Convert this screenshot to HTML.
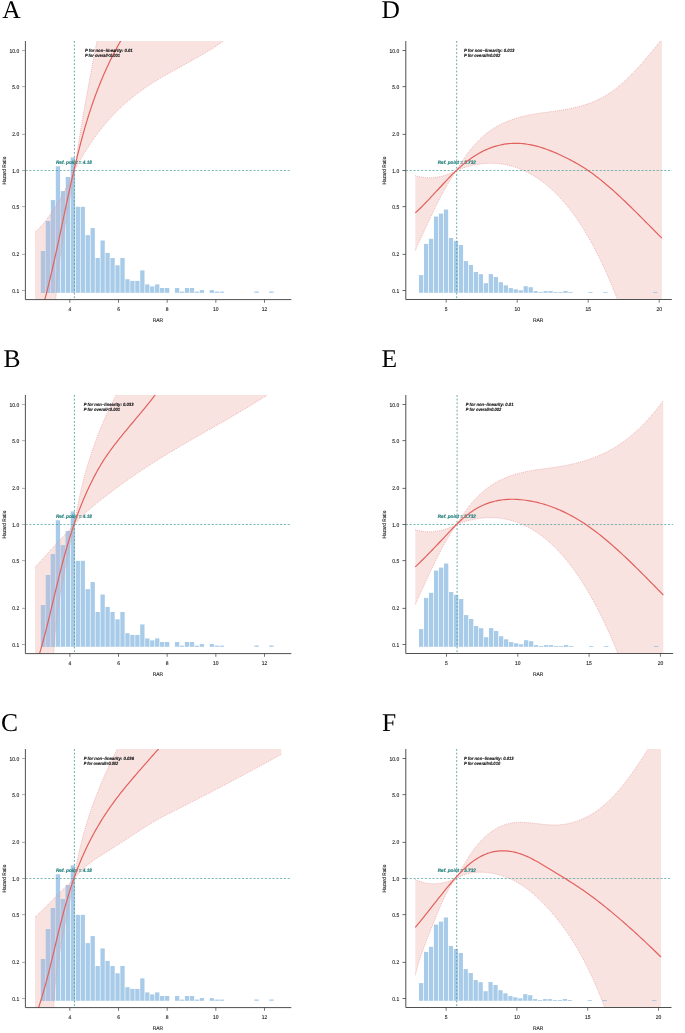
<!DOCTYPE html>
<html><head><meta charset="utf-8"><style>
html,body{margin:0;padding:0;background:#fff;width:685px;height:1033px;overflow:hidden}
svg{display:block;will-change:transform}
text{text-rendering:geometricPrecision}
.tk{font-family:"Liberation Sans",sans-serif;font-size:5.5px;fill:#1e1e1e;stroke:#1e1e1e;stroke-width:0.12px}
.hr{font-family:"Liberation Sans",sans-serif;font-size:5.2px;fill:#1e1e1e;stroke:#1e1e1e;stroke-width:0.12px}
.pv{font-family:"Liberation Sans",sans-serif;font-size:4.5px;font-weight:bold;font-style:italic;fill:#111;stroke:#111;stroke-width:0.12px}
.rf{font-family:"Liberation Sans",sans-serif;font-size:4.9px;font-weight:bold;font-style:italic;fill:#1f7f7a;stroke:#1f7f7a;stroke-width:0.15px}
.pl{font-family:"Liberation Serif",serif;font-size:25.5px;fill:#000}
</style></head><body>
<svg width="685" height="1033" viewBox="0 0 685 1033">
<rect width="685" height="1033" fill="#fff"/>
<clipPath id="clipA"><rect x="25.40" y="41.00" width="265.90" height="258.60"/></clipPath>
<clipPath id="pinkA"><path d="M35.00,232.40 L37.07,230.43 L39.15,228.32 L41.22,226.06 L43.29,223.66 L45.37,221.12 L47.44,218.43 L49.52,215.61 L51.59,212.63 L53.66,209.52 L55.74,206.26 L57.81,202.86 L59.88,199.32 L61.96,195.63 L64.03,191.80 L66.11,187.83 L68.18,183.71 L70.25,179.45 L72.33,175.05 L74.40,170.50 L74.72,168.31 L75.04,166.11 L75.36,163.92 L75.69,161.72 L76.02,159.53 L76.35,157.33 L76.69,155.14 L77.02,152.94 L77.36,150.75 L77.71,148.55 L78.05,146.36 L78.40,144.16 L78.75,141.97 L79.10,139.77 L79.46,137.58 L79.82,135.38 L80.18,133.19 L80.54,130.99 L80.90,128.80 L81.27,126.60 L81.64,124.41 L82.01,122.21 L82.38,120.02 L82.76,117.82 L83.14,115.63 L83.52,113.43 L83.90,111.24 L84.28,109.04 L84.67,106.85 L85.06,104.65 L85.45,102.46 L85.84,100.26 L86.23,98.07 L86.63,95.87 L87.03,93.68 L87.43,91.48 L87.83,89.29 L88.23,87.09 L88.63,84.90 L89.04,82.70 L89.44,80.51 L89.85,78.31 L90.26,76.12 L90.68,73.92 L91.09,71.73 L91.50,69.53 L91.92,67.34 L92.34,65.14 L92.75,62.95 L93.17,60.75 L93.59,58.56 L94.02,56.36 L94.44,54.17 L94.86,51.97 L95.29,49.78 L95.72,47.58 L96.14,45.39 L96.57,43.19 L97.00,41.00 L99.00,10.00 L281.30,10.00 L281.30,10.00 L226.00,10.00 L224.00,40.60 L222.32,41.80 L220.64,42.98 L218.96,44.14 L217.28,45.28 L215.60,46.39 L213.91,47.49 L212.23,48.57 L210.55,49.63 L208.87,50.68 L207.19,51.71 L205.51,52.73 L203.83,53.73 L202.15,54.72 L200.47,55.70 L198.79,56.67 L197.11,57.63 L195.42,58.58 L193.74,59.52 L192.06,60.46 L190.38,61.39 L188.70,62.32 L187.02,63.24 L185.34,64.16 L183.66,65.08 L181.98,66.00 L180.30,66.92 L178.62,67.84 L176.93,68.76 L175.25,69.69 L173.57,70.62 L171.89,71.55 L170.21,72.49 L168.53,73.44 L166.85,74.40 L165.17,75.36 L163.49,76.34 L161.81,77.32 L160.13,78.32 L158.44,79.33 L156.76,80.35 L155.08,81.39 L153.40,82.45 L151.72,83.52 L150.04,84.61 L148.36,85.72 L146.68,86.84 L145.00,87.99 L143.32,89.16 L141.64,90.35 L139.96,91.57 L138.27,92.81 L136.59,94.08 L134.91,95.37 L133.23,96.69 L131.55,98.04 L129.87,99.41 L128.19,100.82 L126.51,102.27 L124.83,103.74 L123.15,105.26 L121.47,106.80 L119.78,108.39 L118.10,110.02 L116.42,111.69 L114.74,113.39 L113.06,115.15 L111.38,116.94 L109.70,118.79 L108.02,120.68 L106.34,122.62 L104.66,124.61 L102.98,126.65 L101.29,128.74 L99.61,130.89 L97.93,133.09 L96.25,135.35 L94.57,137.67 L92.89,140.05 L91.21,142.48 L89.53,144.98 L87.85,147.55 L86.17,150.18 L84.49,152.87 L82.80,155.63 L81.12,158.46 L79.44,161.36 L77.76,164.33 L76.08,167.38 L74.40,170.50 L73.74,174.95 L73.06,179.40 L72.36,183.84 L71.64,188.29 L70.90,192.74 L70.15,197.19 L69.38,201.64 L68.61,206.09 L67.84,210.53 L67.06,214.98 L66.29,219.43 L65.51,223.88 L64.75,228.33 L63.99,232.78 L63.25,237.22 L62.52,241.67 L61.82,246.12 L61.13,250.57 L60.47,255.02 L59.83,259.47 L59.22,263.91 L58.65,268.36 L58.11,272.81 L57.61,277.26 L57.16,281.71 L56.74,286.16 L56.38,290.60 L56.06,295.05 L55.80,299.50 L55.30,340.00 L35.00,340.00 Z"/></clipPath>
<g clip-path="url(#clipA)">
<path d="M35.00,232.40 L37.07,230.43 L39.15,228.32 L41.22,226.06 L43.29,223.66 L45.37,221.12 L47.44,218.43 L49.52,215.61 L51.59,212.63 L53.66,209.52 L55.74,206.26 L57.81,202.86 L59.88,199.32 L61.96,195.63 L64.03,191.80 L66.11,187.83 L68.18,183.71 L70.25,179.45 L72.33,175.05 L74.40,170.50 L74.72,168.31 L75.04,166.11 L75.36,163.92 L75.69,161.72 L76.02,159.53 L76.35,157.33 L76.69,155.14 L77.02,152.94 L77.36,150.75 L77.71,148.55 L78.05,146.36 L78.40,144.16 L78.75,141.97 L79.10,139.77 L79.46,137.58 L79.82,135.38 L80.18,133.19 L80.54,130.99 L80.90,128.80 L81.27,126.60 L81.64,124.41 L82.01,122.21 L82.38,120.02 L82.76,117.82 L83.14,115.63 L83.52,113.43 L83.90,111.24 L84.28,109.04 L84.67,106.85 L85.06,104.65 L85.45,102.46 L85.84,100.26 L86.23,98.07 L86.63,95.87 L87.03,93.68 L87.43,91.48 L87.83,89.29 L88.23,87.09 L88.63,84.90 L89.04,82.70 L89.44,80.51 L89.85,78.31 L90.26,76.12 L90.68,73.92 L91.09,71.73 L91.50,69.53 L91.92,67.34 L92.34,65.14 L92.75,62.95 L93.17,60.75 L93.59,58.56 L94.02,56.36 L94.44,54.17 L94.86,51.97 L95.29,49.78 L95.72,47.58 L96.14,45.39 L96.57,43.19 L97.00,41.00 L99.00,10.00 L281.30,10.00 L281.30,10.00 L226.00,10.00 L224.00,40.60 L222.32,41.80 L220.64,42.98 L218.96,44.14 L217.28,45.28 L215.60,46.39 L213.91,47.49 L212.23,48.57 L210.55,49.63 L208.87,50.68 L207.19,51.71 L205.51,52.73 L203.83,53.73 L202.15,54.72 L200.47,55.70 L198.79,56.67 L197.11,57.63 L195.42,58.58 L193.74,59.52 L192.06,60.46 L190.38,61.39 L188.70,62.32 L187.02,63.24 L185.34,64.16 L183.66,65.08 L181.98,66.00 L180.30,66.92 L178.62,67.84 L176.93,68.76 L175.25,69.69 L173.57,70.62 L171.89,71.55 L170.21,72.49 L168.53,73.44 L166.85,74.40 L165.17,75.36 L163.49,76.34 L161.81,77.32 L160.13,78.32 L158.44,79.33 L156.76,80.35 L155.08,81.39 L153.40,82.45 L151.72,83.52 L150.04,84.61 L148.36,85.72 L146.68,86.84 L145.00,87.99 L143.32,89.16 L141.64,90.35 L139.96,91.57 L138.27,92.81 L136.59,94.08 L134.91,95.37 L133.23,96.69 L131.55,98.04 L129.87,99.41 L128.19,100.82 L126.51,102.27 L124.83,103.74 L123.15,105.26 L121.47,106.80 L119.78,108.39 L118.10,110.02 L116.42,111.69 L114.74,113.39 L113.06,115.15 L111.38,116.94 L109.70,118.79 L108.02,120.68 L106.34,122.62 L104.66,124.61 L102.98,126.65 L101.29,128.74 L99.61,130.89 L97.93,133.09 L96.25,135.35 L94.57,137.67 L92.89,140.05 L91.21,142.48 L89.53,144.98 L87.85,147.55 L86.17,150.18 L84.49,152.87 L82.80,155.63 L81.12,158.46 L79.44,161.36 L77.76,164.33 L76.08,167.38 L74.40,170.50 L73.74,174.95 L73.06,179.40 L72.36,183.84 L71.64,188.29 L70.90,192.74 L70.15,197.19 L69.38,201.64 L68.61,206.09 L67.84,210.53 L67.06,214.98 L66.29,219.43 L65.51,223.88 L64.75,228.33 L63.99,232.78 L63.25,237.22 L62.52,241.67 L61.82,246.12 L61.13,250.57 L60.47,255.02 L59.83,259.47 L59.22,263.91 L58.65,268.36 L58.11,272.81 L57.61,277.26 L57.16,281.71 L56.74,286.16 L56.38,290.60 L56.06,295.05 L55.80,299.50 L55.30,340.00 L35.00,340.00 Z" fill="#f9e3e1"/>
<g fill="#a7cbe8"><rect x="40.90" y="251.00" width="4.30" height="41.80"/><rect x="45.86" y="221.10" width="4.30" height="71.70"/><rect x="50.83" y="200.10" width="4.30" height="92.70"/><rect x="55.80" y="166.30" width="4.30" height="126.50"/><rect x="60.76" y="191.10" width="4.30" height="101.70"/><rect x="65.72" y="177.00" width="4.30" height="115.80"/><rect x="70.69" y="157.40" width="4.30" height="135.40"/><rect x="75.66" y="206.80" width="4.30" height="86.00"/><rect x="80.62" y="206.80" width="4.30" height="86.00"/><rect x="85.59" y="235.10" width="4.30" height="57.70"/><rect x="90.55" y="228.10" width="4.30" height="64.70"/><rect x="95.51" y="258.00" width="4.30" height="34.80"/><rect x="100.48" y="240.50" width="4.30" height="52.30"/><rect x="105.44" y="252.90" width="4.30" height="39.90"/><rect x="110.41" y="258.00" width="4.30" height="34.80"/><rect x="115.38" y="265.30" width="4.30" height="27.50"/><rect x="120.34" y="258.00" width="4.30" height="34.80"/><rect x="125.31" y="279.20" width="4.30" height="13.60"/><rect x="130.27" y="280.90" width="4.30" height="11.90"/><rect x="135.23" y="280.90" width="4.30" height="11.90"/><rect x="140.20" y="270.40" width="4.30" height="22.40"/><rect x="145.16" y="284.40" width="4.30" height="8.40"/><rect x="150.13" y="286.40" width="4.30" height="6.40"/><rect x="155.09" y="284.40" width="4.30" height="8.40"/><rect x="160.06" y="288.00" width="4.30" height="4.80"/><rect x="165.03" y="288.00" width="4.30" height="4.80"/><rect x="174.96" y="288.00" width="4.30" height="4.80"/><rect x="179.92" y="291.60" width="4.30" height="1.20"/><rect x="184.88" y="288.00" width="4.30" height="4.80"/><rect x="189.85" y="288.00" width="4.30" height="4.80"/><rect x="194.81" y="291.60" width="4.30" height="1.20"/><rect x="199.78" y="290.10" width="4.30" height="2.70"/><rect x="209.71" y="290.10" width="4.30" height="2.70"/><rect x="214.68" y="291.60" width="4.30" height="1.20"/><rect x="219.64" y="291.60" width="4.30" height="1.20"/><rect x="254.40" y="291.50" width="4.30" height="1.30"/><rect x="269.29" y="291.50" width="4.30" height="1.30"/></g>
<g fill="#b1c3df" clip-path="url(#pinkA)"><rect x="40.90" y="251.00" width="4.30" height="41.80"/><rect x="45.86" y="221.10" width="4.30" height="71.70"/><rect x="50.83" y="200.10" width="4.30" height="92.70"/><rect x="55.80" y="166.30" width="4.30" height="126.50"/><rect x="60.76" y="191.10" width="4.30" height="101.70"/><rect x="65.72" y="177.00" width="4.30" height="115.80"/><rect x="70.69" y="157.40" width="4.30" height="135.40"/><rect x="75.66" y="206.80" width="4.30" height="86.00"/><rect x="80.62" y="206.80" width="4.30" height="86.00"/><rect x="85.59" y="235.10" width="4.30" height="57.70"/><rect x="90.55" y="228.10" width="4.30" height="64.70"/><rect x="95.51" y="258.00" width="4.30" height="34.80"/><rect x="100.48" y="240.50" width="4.30" height="52.30"/><rect x="105.44" y="252.90" width="4.30" height="39.90"/><rect x="110.41" y="258.00" width="4.30" height="34.80"/><rect x="115.38" y="265.30" width="4.30" height="27.50"/><rect x="120.34" y="258.00" width="4.30" height="34.80"/><rect x="125.31" y="279.20" width="4.30" height="13.60"/><rect x="130.27" y="280.90" width="4.30" height="11.90"/><rect x="135.23" y="280.90" width="4.30" height="11.90"/><rect x="140.20" y="270.40" width="4.30" height="22.40"/><rect x="145.16" y="284.40" width="4.30" height="8.40"/><rect x="150.13" y="286.40" width="4.30" height="6.40"/><rect x="155.09" y="284.40" width="4.30" height="8.40"/><rect x="160.06" y="288.00" width="4.30" height="4.80"/><rect x="165.03" y="288.00" width="4.30" height="4.80"/><rect x="174.96" y="288.00" width="4.30" height="4.80"/><rect x="179.92" y="291.60" width="4.30" height="1.20"/><rect x="184.88" y="288.00" width="4.30" height="4.80"/><rect x="189.85" y="288.00" width="4.30" height="4.80"/><rect x="194.81" y="291.60" width="4.30" height="1.20"/><rect x="199.78" y="290.10" width="4.30" height="2.70"/><rect x="209.71" y="290.10" width="4.30" height="2.70"/><rect x="214.68" y="291.60" width="4.30" height="1.20"/><rect x="219.64" y="291.60" width="4.30" height="1.20"/><rect x="254.40" y="291.50" width="4.30" height="1.30"/><rect x="269.29" y="291.50" width="4.30" height="1.30"/></g>
<path d="M35.00,232.40 L37.07,230.43 L39.15,228.32 L41.22,226.06 L43.29,223.66 L45.37,221.12 L47.44,218.43 L49.52,215.61 L51.59,212.63 L53.66,209.52 L55.74,206.26 L57.81,202.86 L59.88,199.32 L61.96,195.63 L64.03,191.80 L66.11,187.83 L68.18,183.71 L70.25,179.45 L72.33,175.05 L74.40,170.50 L74.72,168.31 L75.04,166.11 L75.36,163.92 L75.69,161.72 L76.02,159.53 L76.35,157.33 L76.69,155.14 L77.02,152.94 L77.36,150.75 L77.71,148.55 L78.05,146.36 L78.40,144.16 L78.75,141.97 L79.10,139.77 L79.46,137.58 L79.82,135.38 L80.18,133.19 L80.54,130.99 L80.90,128.80 L81.27,126.60 L81.64,124.41 L82.01,122.21 L82.38,120.02 L82.76,117.82 L83.14,115.63 L83.52,113.43 L83.90,111.24 L84.28,109.04 L84.67,106.85 L85.06,104.65 L85.45,102.46 L85.84,100.26 L86.23,98.07 L86.63,95.87 L87.03,93.68 L87.43,91.48 L87.83,89.29 L88.23,87.09 L88.63,84.90 L89.04,82.70 L89.44,80.51 L89.85,78.31 L90.26,76.12 L90.68,73.92 L91.09,71.73 L91.50,69.53 L91.92,67.34 L92.34,65.14 L92.75,62.95 L93.17,60.75 L93.59,58.56 L94.02,56.36 L94.44,54.17 L94.86,51.97 L95.29,49.78 L95.72,47.58 L96.14,45.39 L96.57,43.19 L97.00,41.00" fill="none" stroke="#e8999a" stroke-width="0.8" stroke-dasharray="0.8 1.2"/>
<path d="M55.80,299.50 L56.06,295.05 L56.38,290.60 L56.74,286.16 L57.16,281.71 L57.61,277.26 L58.11,272.81 L58.65,268.36 L59.22,263.91 L59.83,259.47 L60.47,255.02 L61.13,250.57 L61.82,246.12 L62.52,241.67 L63.25,237.22 L63.99,232.78 L64.75,228.33 L65.51,223.88 L66.29,219.43 L67.06,214.98 L67.84,210.53 L68.61,206.09 L69.38,201.64 L70.15,197.19 L70.90,192.74 L71.64,188.29 L72.36,183.84 L73.06,179.40 L73.74,174.95 L74.40,170.50 L76.08,167.38 L77.76,164.33 L79.44,161.36 L81.12,158.46 L82.80,155.63 L84.49,152.87 L86.17,150.18 L87.85,147.55 L89.53,144.98 L91.21,142.48 L92.89,140.05 L94.57,137.67 L96.25,135.35 L97.93,133.09 L99.61,130.89 L101.29,128.74 L102.98,126.65 L104.66,124.61 L106.34,122.62 L108.02,120.68 L109.70,118.79 L111.38,116.94 L113.06,115.15 L114.74,113.39 L116.42,111.69 L118.10,110.02 L119.78,108.39 L121.47,106.80 L123.15,105.26 L124.83,103.74 L126.51,102.27 L128.19,100.82 L129.87,99.41 L131.55,98.04 L133.23,96.69 L134.91,95.37 L136.59,94.08 L138.27,92.81 L139.96,91.57 L141.64,90.35 L143.32,89.16 L145.00,87.99 L146.68,86.84 L148.36,85.72 L150.04,84.61 L151.72,83.52 L153.40,82.45 L155.08,81.39 L156.76,80.35 L158.44,79.33 L160.13,78.32 L161.81,77.32 L163.49,76.34 L165.17,75.36 L166.85,74.40 L168.53,73.44 L170.21,72.49 L171.89,71.55 L173.57,70.62 L175.25,69.69 L176.93,68.76 L178.62,67.84 L180.30,66.92 L181.98,66.00 L183.66,65.08 L185.34,64.16 L187.02,63.24 L188.70,62.32 L190.38,61.39 L192.06,60.46 L193.74,59.52 L195.42,58.58 L197.11,57.63 L198.79,56.67 L200.47,55.70 L202.15,54.72 L203.83,53.73 L205.51,52.73 L207.19,51.71 L208.87,50.68 L210.55,49.63 L212.23,48.57 L213.91,47.49 L215.60,46.39 L217.28,45.28 L218.96,44.14 L220.64,42.98 L222.32,41.80 L224.00,40.60" fill="none" stroke="#e8999a" stroke-width="0.8" stroke-dasharray="0.8 1.2"/>
<line x1="74.4" y1="41.0" x2="74.4" y2="299.6" stroke="#4f9f9c" stroke-width="0.9" stroke-dasharray="1.8 1.9" stroke-opacity="1"/>
<line x1="25.4" y1="170.5" x2="291.5" y2="170.5" stroke="#4f9f9c" stroke-width="0.8" stroke-dasharray="2.2 1.6" stroke-opacity="0.9"/>
<text x="56.0" y="164.20" class="rf" textLength="35.80" lengthAdjust="spacingAndGlyphs">Ref. point = 4.18</text>
<path d="M37.13,328.50 L44.80,299.50 L45.37,297.33 L45.94,295.16 L46.50,292.98 L47.06,290.81 L47.61,288.64 L48.15,286.47 L48.69,284.29 L49.22,282.12 L49.75,279.95 L50.28,277.78 L50.79,275.61 L51.31,273.43 L51.82,271.26 L52.33,269.09 L52.83,266.92 L53.33,264.74 L53.82,262.57 L54.31,260.40 L54.80,258.23 L55.29,256.05 L55.77,253.88 L56.25,251.71 L56.73,249.54 L57.20,247.37 L57.67,245.19 L58.14,243.02 L58.61,240.85 L59.08,238.68 L59.55,236.50 L60.01,234.33 L60.47,232.16 L60.94,229.99 L61.40,227.82 L61.86,225.64 L62.32,223.47 L62.78,221.30 L63.24,219.13 L63.70,216.95 L64.16,214.78 L64.62,212.61 L65.08,210.44 L65.54,208.26 L66.01,206.09 L66.47,203.92 L66.94,201.75 L67.40,199.58 L67.87,197.40 L68.34,195.23 L68.82,193.06 L69.29,190.89 L69.77,188.71 L70.25,186.54 L70.73,184.37 L71.22,182.20 L71.71,180.03 L72.20,177.85 L72.70,175.68 L73.20,173.51 L73.70,171.34 L74.21,169.16 L74.72,166.99 L75.23,164.82 L75.75,162.65 L76.28,160.47 L76.81,158.30 L77.34,156.13 L77.88,153.96 L78.43,151.79 L78.98,149.61 L79.54,147.44 L80.10,145.27 L80.67,143.10 L81.24,140.92 L81.83,138.75 L82.42,136.58 L83.02,134.41 L83.62,132.24 L84.24,130.06 L84.86,127.89 L85.50,125.72 L86.14,123.55 L86.79,121.37 L87.45,119.20 L88.12,117.03 L88.81,114.86 L89.50,112.68 L90.21,110.51 L90.92,108.34 L91.65,106.17 L92.39,104.00 L93.14,101.82 L93.91,99.65 L94.69,97.48 L95.48,95.31 L96.29,93.13 L97.11,90.96 L97.94,88.79 L98.79,86.62 L99.66,84.45 L100.54,82.27 L101.43,80.10 L102.34,77.93 L103.27,75.76 L104.22,73.58 L105.18,71.41 L106.16,69.24 L107.15,67.07 L108.17,64.89 L109.20,62.72 L110.25,60.55 L111.32,58.38 L112.41,56.21 L113.52,54.03 L114.65,51.86 L115.80,49.69 L116.96,47.52 L118.15,45.34 L119.37,43.17 L120.60,41.00 L135.40,14.91" fill="none" stroke="#e2615d" stroke-width="1.2" stroke-linejoin="round"/>
</g>
<path d="M25.4,41.0 V299.6 H291.3" fill="none" stroke="#3c3c3c" stroke-width="0.9"/>
<line x1="22.00" y1="50.50" x2="25.4" y2="50.50" stroke="#777" stroke-width="0.6"/>
<text transform="translate(19.25,52.50) scale(0.9,1)" text-anchor="end" class="tk">10.0</text>
<line x1="22.00" y1="86.62" x2="25.4" y2="86.62" stroke="#777" stroke-width="0.6"/>
<text transform="translate(19.25,88.62) scale(0.9,1)" text-anchor="end" class="tk">5.0</text>
<line x1="22.00" y1="134.38" x2="25.4" y2="134.38" stroke="#777" stroke-width="0.6"/>
<text transform="translate(19.25,136.38) scale(0.9,1)" text-anchor="end" class="tk">2.0</text>
<line x1="22.00" y1="170.50" x2="25.4" y2="170.50" stroke="#777" stroke-width="0.6"/>
<text transform="translate(19.25,172.50) scale(0.9,1)" text-anchor="end" class="tk">1.0</text>
<line x1="22.00" y1="206.62" x2="25.4" y2="206.62" stroke="#777" stroke-width="0.6"/>
<text transform="translate(19.25,208.62) scale(0.9,1)" text-anchor="end" class="tk">0.5</text>
<line x1="22.00" y1="254.38" x2="25.4" y2="254.38" stroke="#777" stroke-width="0.6"/>
<text transform="translate(19.25,256.38) scale(0.9,1)" text-anchor="end" class="tk">0.2</text>
<line x1="22.00" y1="290.50" x2="25.4" y2="290.50" stroke="#777" stroke-width="0.6"/>
<text transform="translate(19.25,292.50) scale(0.9,1)" text-anchor="end" class="tk">0.1</text>
<line x1="69.85" y1="299.6" x2="69.85" y2="302.8" stroke="#3c3c3c" stroke-width="0.7"/>
<text transform="translate(69.85,310.60) scale(0.9,1)" text-anchor="middle" class="tk">4</text>
<line x1="118.51" y1="299.6" x2="118.51" y2="302.8" stroke="#3c3c3c" stroke-width="0.7"/>
<text transform="translate(118.51,310.60) scale(0.9,1)" text-anchor="middle" class="tk">6</text>
<line x1="167.17" y1="299.6" x2="167.17" y2="302.8" stroke="#3c3c3c" stroke-width="0.7"/>
<text transform="translate(167.17,310.60) scale(0.9,1)" text-anchor="middle" class="tk">8</text>
<line x1="215.83" y1="299.6" x2="215.83" y2="302.8" stroke="#3c3c3c" stroke-width="0.7"/>
<text transform="translate(215.83,310.60) scale(0.9,1)" text-anchor="middle" class="tk">10</text>
<line x1="264.49" y1="299.6" x2="264.49" y2="302.8" stroke="#3c3c3c" stroke-width="0.7"/>
<text transform="translate(264.49,310.60) scale(0.9,1)" text-anchor="middle" class="tk">12</text>
<text transform="translate(157.9,322.30) scale(0.9,0.95)" text-anchor="middle" class="tk">RAR</text>
<text transform="translate(6.00,170.60) rotate(-90) scale(0.92,1)" text-anchor="middle" class="hr">Hazard Ratio</text>
<text x="84.90" y="51.80" class="pv" textLength="47.80" lengthAdjust="spacingAndGlyphs">P for non−linearity: 0.01</text>
<text x="84.90" y="56.90" class="pv" textLength="35.10" lengthAdjust="spacingAndGlyphs">P for overall<0.001</text>
<text x="2.2" y="17.9" class="pl">A</text>
<clipPath id="clipB"><rect x="25.40" y="395.00" width="265.90" height="258.60"/></clipPath>
<clipPath id="pinkB"><path d="M35.00,567.40 L37.07,565.08 L39.15,562.77 L41.22,560.47 L43.29,558.17 L45.37,555.88 L47.44,553.59 L49.52,551.31 L51.59,549.04 L53.66,546.78 L55.74,544.52 L57.81,542.27 L59.88,540.02 L61.96,537.78 L64.03,535.55 L66.11,533.33 L68.18,531.11 L70.25,528.90 L72.33,526.70 L74.40,524.50 L74.75,522.31 L75.12,520.11 L75.49,517.92 L75.87,515.72 L76.26,513.53 L76.66,511.33 L77.07,509.14 L77.49,506.94 L77.92,504.75 L78.36,502.55 L78.82,500.36 L79.28,498.16 L79.75,495.97 L80.24,493.77 L80.74,491.58 L81.25,489.38 L81.77,487.19 L82.30,484.99 L82.84,482.80 L83.40,480.60 L83.97,478.41 L84.55,476.21 L85.15,474.02 L85.75,471.82 L86.37,469.63 L87.00,467.43 L87.65,465.24 L88.31,463.04 L88.98,460.85 L89.67,458.65 L90.37,456.46 L91.08,454.26 L91.81,452.07 L92.55,449.87 L93.31,447.68 L94.08,445.48 L94.87,443.29 L95.67,441.09 L96.49,438.90 L97.32,436.70 L98.16,434.51 L99.03,432.31 L99.90,430.12 L100.80,427.92 L101.71,425.73 L102.63,423.53 L103.58,421.34 L104.53,419.14 L105.51,416.95 L106.50,414.75 L107.51,412.56 L108.53,410.36 L109.58,408.17 L110.64,405.97 L111.71,403.78 L112.81,401.58 L113.92,399.39 L115.05,397.19 L116.20,395.00 L118.20,364.00 L281.30,364.00 L281.30,364.00 L269.30,364.00 L267.30,395.00 L265.13,396.39 L262.97,397.78 L260.80,399.15 L258.63,400.51 L256.46,401.86 L254.30,403.20 L252.13,404.53 L249.96,405.85 L247.79,407.17 L245.63,408.47 L243.46,409.77 L241.29,411.06 L239.12,412.35 L236.96,413.63 L234.79,414.90 L232.62,416.16 L230.45,417.43 L228.29,418.68 L226.12,419.94 L223.95,421.19 L221.78,422.43 L219.62,423.68 L217.45,424.92 L215.28,426.16 L213.11,427.39 L210.95,428.63 L208.78,429.87 L206.61,431.10 L204.44,432.34 L202.28,433.58 L200.11,434.81 L197.94,436.05 L195.78,437.30 L193.61,438.54 L191.44,439.79 L189.27,441.04 L187.11,442.29 L184.94,443.55 L182.77,444.82 L180.60,446.09 L178.44,447.36 L176.27,448.64 L174.10,449.93 L171.93,451.22 L169.77,452.52 L167.60,453.83 L165.43,455.15 L163.26,456.48 L161.10,457.81 L158.93,459.16 L156.76,460.51 L154.59,461.88 L152.43,463.26 L150.26,464.64 L148.09,466.04 L145.92,467.46 L143.76,468.88 L141.59,470.32 L139.42,471.77 L137.26,473.24 L135.09,474.72 L132.92,476.21 L130.75,477.72 L128.59,479.25 L126.42,480.79 L124.25,482.34 L122.08,483.91 L119.92,485.50 L117.75,487.10 L115.58,488.71 L113.41,490.33 L111.25,491.97 L109.08,493.61 L106.91,495.27 L104.74,496.94 L102.58,498.62 L100.41,500.31 L98.24,502.01 L96.07,503.73 L93.91,505.49 L91.74,507.29 L89.57,509.15 L87.40,511.07 L85.24,513.06 L83.07,515.14 L80.90,517.31 L78.73,519.59 L76.57,521.98 L74.40,524.50 L73.45,528.95 L72.50,533.40 L71.55,537.84 L70.60,542.29 L69.65,546.74 L68.72,551.19 L67.79,555.64 L66.87,560.09 L65.97,564.53 L65.08,568.98 L64.21,573.43 L63.36,577.88 L62.53,582.33 L61.72,586.78 L60.94,591.22 L60.19,595.67 L59.46,600.12 L58.77,604.57 L58.11,609.02 L57.48,613.47 L56.90,617.91 L56.35,622.36 L55.84,626.81 L55.38,631.26 L54.97,635.71 L54.60,640.16 L54.28,644.60 L54.01,649.05 L53.80,653.50 L53.30,694.00 L35.00,694.00 Z"/></clipPath>
<g clip-path="url(#clipB)">
<path d="M35.00,567.40 L37.07,565.08 L39.15,562.77 L41.22,560.47 L43.29,558.17 L45.37,555.88 L47.44,553.59 L49.52,551.31 L51.59,549.04 L53.66,546.78 L55.74,544.52 L57.81,542.27 L59.88,540.02 L61.96,537.78 L64.03,535.55 L66.11,533.33 L68.18,531.11 L70.25,528.90 L72.33,526.70 L74.40,524.50 L74.75,522.31 L75.12,520.11 L75.49,517.92 L75.87,515.72 L76.26,513.53 L76.66,511.33 L77.07,509.14 L77.49,506.94 L77.92,504.75 L78.36,502.55 L78.82,500.36 L79.28,498.16 L79.75,495.97 L80.24,493.77 L80.74,491.58 L81.25,489.38 L81.77,487.19 L82.30,484.99 L82.84,482.80 L83.40,480.60 L83.97,478.41 L84.55,476.21 L85.15,474.02 L85.75,471.82 L86.37,469.63 L87.00,467.43 L87.65,465.24 L88.31,463.04 L88.98,460.85 L89.67,458.65 L90.37,456.46 L91.08,454.26 L91.81,452.07 L92.55,449.87 L93.31,447.68 L94.08,445.48 L94.87,443.29 L95.67,441.09 L96.49,438.90 L97.32,436.70 L98.16,434.51 L99.03,432.31 L99.90,430.12 L100.80,427.92 L101.71,425.73 L102.63,423.53 L103.58,421.34 L104.53,419.14 L105.51,416.95 L106.50,414.75 L107.51,412.56 L108.53,410.36 L109.58,408.17 L110.64,405.97 L111.71,403.78 L112.81,401.58 L113.92,399.39 L115.05,397.19 L116.20,395.00 L118.20,364.00 L281.30,364.00 L281.30,364.00 L269.30,364.00 L267.30,395.00 L265.13,396.39 L262.97,397.78 L260.80,399.15 L258.63,400.51 L256.46,401.86 L254.30,403.20 L252.13,404.53 L249.96,405.85 L247.79,407.17 L245.63,408.47 L243.46,409.77 L241.29,411.06 L239.12,412.35 L236.96,413.63 L234.79,414.90 L232.62,416.16 L230.45,417.43 L228.29,418.68 L226.12,419.94 L223.95,421.19 L221.78,422.43 L219.62,423.68 L217.45,424.92 L215.28,426.16 L213.11,427.39 L210.95,428.63 L208.78,429.87 L206.61,431.10 L204.44,432.34 L202.28,433.58 L200.11,434.81 L197.94,436.05 L195.78,437.30 L193.61,438.54 L191.44,439.79 L189.27,441.04 L187.11,442.29 L184.94,443.55 L182.77,444.82 L180.60,446.09 L178.44,447.36 L176.27,448.64 L174.10,449.93 L171.93,451.22 L169.77,452.52 L167.60,453.83 L165.43,455.15 L163.26,456.48 L161.10,457.81 L158.93,459.16 L156.76,460.51 L154.59,461.88 L152.43,463.26 L150.26,464.64 L148.09,466.04 L145.92,467.46 L143.76,468.88 L141.59,470.32 L139.42,471.77 L137.26,473.24 L135.09,474.72 L132.92,476.21 L130.75,477.72 L128.59,479.25 L126.42,480.79 L124.25,482.34 L122.08,483.91 L119.92,485.50 L117.75,487.10 L115.58,488.71 L113.41,490.33 L111.25,491.97 L109.08,493.61 L106.91,495.27 L104.74,496.94 L102.58,498.62 L100.41,500.31 L98.24,502.01 L96.07,503.73 L93.91,505.49 L91.74,507.29 L89.57,509.15 L87.40,511.07 L85.24,513.06 L83.07,515.14 L80.90,517.31 L78.73,519.59 L76.57,521.98 L74.40,524.50 L73.45,528.95 L72.50,533.40 L71.55,537.84 L70.60,542.29 L69.65,546.74 L68.72,551.19 L67.79,555.64 L66.87,560.09 L65.97,564.53 L65.08,568.98 L64.21,573.43 L63.36,577.88 L62.53,582.33 L61.72,586.78 L60.94,591.22 L60.19,595.67 L59.46,600.12 L58.77,604.57 L58.11,609.02 L57.48,613.47 L56.90,617.91 L56.35,622.36 L55.84,626.81 L55.38,631.26 L54.97,635.71 L54.60,640.16 L54.28,644.60 L54.01,649.05 L53.80,653.50 L53.30,694.00 L35.00,694.00 Z" fill="#f9e3e1"/>
<g fill="#a7cbe8"><rect x="40.90" y="605.00" width="4.30" height="41.80"/><rect x="45.86" y="575.10" width="4.30" height="71.70"/><rect x="50.83" y="554.10" width="4.30" height="92.70"/><rect x="55.80" y="520.30" width="4.30" height="126.50"/><rect x="60.76" y="545.10" width="4.30" height="101.70"/><rect x="65.72" y="531.00" width="4.30" height="115.80"/><rect x="70.69" y="511.40" width="4.30" height="135.40"/><rect x="75.66" y="560.80" width="4.30" height="86.00"/><rect x="80.62" y="560.80" width="4.30" height="86.00"/><rect x="85.59" y="589.10" width="4.30" height="57.70"/><rect x="90.55" y="582.10" width="4.30" height="64.70"/><rect x="95.51" y="612.00" width="4.30" height="34.80"/><rect x="100.48" y="594.50" width="4.30" height="52.30"/><rect x="105.44" y="606.90" width="4.30" height="39.90"/><rect x="110.41" y="612.00" width="4.30" height="34.80"/><rect x="115.38" y="619.30" width="4.30" height="27.50"/><rect x="120.34" y="612.00" width="4.30" height="34.80"/><rect x="125.31" y="633.20" width="4.30" height="13.60"/><rect x="130.27" y="634.90" width="4.30" height="11.90"/><rect x="135.23" y="634.90" width="4.30" height="11.90"/><rect x="140.20" y="624.40" width="4.30" height="22.40"/><rect x="145.16" y="638.40" width="4.30" height="8.40"/><rect x="150.13" y="640.40" width="4.30" height="6.40"/><rect x="155.09" y="638.40" width="4.30" height="8.40"/><rect x="160.06" y="642.00" width="4.30" height="4.80"/><rect x="165.03" y="642.00" width="4.30" height="4.80"/><rect x="174.96" y="642.00" width="4.30" height="4.80"/><rect x="179.92" y="645.60" width="4.30" height="1.20"/><rect x="184.88" y="642.00" width="4.30" height="4.80"/><rect x="189.85" y="642.00" width="4.30" height="4.80"/><rect x="194.81" y="645.60" width="4.30" height="1.20"/><rect x="199.78" y="644.10" width="4.30" height="2.70"/><rect x="209.71" y="644.10" width="4.30" height="2.70"/><rect x="214.68" y="645.60" width="4.30" height="1.20"/><rect x="219.64" y="645.60" width="4.30" height="1.20"/><rect x="254.40" y="645.50" width="4.30" height="1.30"/><rect x="269.29" y="645.50" width="4.30" height="1.30"/></g>
<g fill="#b1c3df" clip-path="url(#pinkB)"><rect x="40.90" y="605.00" width="4.30" height="41.80"/><rect x="45.86" y="575.10" width="4.30" height="71.70"/><rect x="50.83" y="554.10" width="4.30" height="92.70"/><rect x="55.80" y="520.30" width="4.30" height="126.50"/><rect x="60.76" y="545.10" width="4.30" height="101.70"/><rect x="65.72" y="531.00" width="4.30" height="115.80"/><rect x="70.69" y="511.40" width="4.30" height="135.40"/><rect x="75.66" y="560.80" width="4.30" height="86.00"/><rect x="80.62" y="560.80" width="4.30" height="86.00"/><rect x="85.59" y="589.10" width="4.30" height="57.70"/><rect x="90.55" y="582.10" width="4.30" height="64.70"/><rect x="95.51" y="612.00" width="4.30" height="34.80"/><rect x="100.48" y="594.50" width="4.30" height="52.30"/><rect x="105.44" y="606.90" width="4.30" height="39.90"/><rect x="110.41" y="612.00" width="4.30" height="34.80"/><rect x="115.38" y="619.30" width="4.30" height="27.50"/><rect x="120.34" y="612.00" width="4.30" height="34.80"/><rect x="125.31" y="633.20" width="4.30" height="13.60"/><rect x="130.27" y="634.90" width="4.30" height="11.90"/><rect x="135.23" y="634.90" width="4.30" height="11.90"/><rect x="140.20" y="624.40" width="4.30" height="22.40"/><rect x="145.16" y="638.40" width="4.30" height="8.40"/><rect x="150.13" y="640.40" width="4.30" height="6.40"/><rect x="155.09" y="638.40" width="4.30" height="8.40"/><rect x="160.06" y="642.00" width="4.30" height="4.80"/><rect x="165.03" y="642.00" width="4.30" height="4.80"/><rect x="174.96" y="642.00" width="4.30" height="4.80"/><rect x="179.92" y="645.60" width="4.30" height="1.20"/><rect x="184.88" y="642.00" width="4.30" height="4.80"/><rect x="189.85" y="642.00" width="4.30" height="4.80"/><rect x="194.81" y="645.60" width="4.30" height="1.20"/><rect x="199.78" y="644.10" width="4.30" height="2.70"/><rect x="209.71" y="644.10" width="4.30" height="2.70"/><rect x="214.68" y="645.60" width="4.30" height="1.20"/><rect x="219.64" y="645.60" width="4.30" height="1.20"/><rect x="254.40" y="645.50" width="4.30" height="1.30"/><rect x="269.29" y="645.50" width="4.30" height="1.30"/></g>
<path d="M35.00,567.40 L37.07,565.08 L39.15,562.77 L41.22,560.47 L43.29,558.17 L45.37,555.88 L47.44,553.59 L49.52,551.31 L51.59,549.04 L53.66,546.78 L55.74,544.52 L57.81,542.27 L59.88,540.02 L61.96,537.78 L64.03,535.55 L66.11,533.33 L68.18,531.11 L70.25,528.90 L72.33,526.70 L74.40,524.50 L74.75,522.31 L75.12,520.11 L75.49,517.92 L75.87,515.72 L76.26,513.53 L76.66,511.33 L77.07,509.14 L77.49,506.94 L77.92,504.75 L78.36,502.55 L78.82,500.36 L79.28,498.16 L79.75,495.97 L80.24,493.77 L80.74,491.58 L81.25,489.38 L81.77,487.19 L82.30,484.99 L82.84,482.80 L83.40,480.60 L83.97,478.41 L84.55,476.21 L85.15,474.02 L85.75,471.82 L86.37,469.63 L87.00,467.43 L87.65,465.24 L88.31,463.04 L88.98,460.85 L89.67,458.65 L90.37,456.46 L91.08,454.26 L91.81,452.07 L92.55,449.87 L93.31,447.68 L94.08,445.48 L94.87,443.29 L95.67,441.09 L96.49,438.90 L97.32,436.70 L98.16,434.51 L99.03,432.31 L99.90,430.12 L100.80,427.92 L101.71,425.73 L102.63,423.53 L103.58,421.34 L104.53,419.14 L105.51,416.95 L106.50,414.75 L107.51,412.56 L108.53,410.36 L109.58,408.17 L110.64,405.97 L111.71,403.78 L112.81,401.58 L113.92,399.39 L115.05,397.19 L116.20,395.00" fill="none" stroke="#e8999a" stroke-width="0.8" stroke-dasharray="0.8 1.2"/>
<path d="M53.80,653.50 L54.01,649.05 L54.28,644.60 L54.60,640.16 L54.97,635.71 L55.38,631.26 L55.84,626.81 L56.35,622.36 L56.90,617.91 L57.48,613.47 L58.11,609.02 L58.77,604.57 L59.46,600.12 L60.19,595.67 L60.94,591.22 L61.72,586.78 L62.53,582.33 L63.36,577.88 L64.21,573.43 L65.08,568.98 L65.97,564.53 L66.87,560.09 L67.79,555.64 L68.72,551.19 L69.65,546.74 L70.60,542.29 L71.55,537.84 L72.50,533.40 L73.45,528.95 L74.40,524.50 L76.57,521.98 L78.73,519.59 L80.90,517.31 L83.07,515.14 L85.24,513.06 L87.40,511.07 L89.57,509.15 L91.74,507.29 L93.91,505.49 L96.07,503.73 L98.24,502.01 L100.41,500.31 L102.58,498.62 L104.74,496.94 L106.91,495.27 L109.08,493.61 L111.25,491.97 L113.41,490.33 L115.58,488.71 L117.75,487.10 L119.92,485.50 L122.08,483.91 L124.25,482.34 L126.42,480.79 L128.59,479.25 L130.75,477.72 L132.92,476.21 L135.09,474.72 L137.26,473.24 L139.42,471.77 L141.59,470.32 L143.76,468.88 L145.92,467.46 L148.09,466.04 L150.26,464.64 L152.43,463.26 L154.59,461.88 L156.76,460.51 L158.93,459.16 L161.10,457.81 L163.26,456.48 L165.43,455.15 L167.60,453.83 L169.77,452.52 L171.93,451.22 L174.10,449.93 L176.27,448.64 L178.44,447.36 L180.60,446.09 L182.77,444.82 L184.94,443.55 L187.11,442.29 L189.27,441.04 L191.44,439.79 L193.61,438.54 L195.78,437.30 L197.94,436.05 L200.11,434.81 L202.28,433.58 L204.44,432.34 L206.61,431.10 L208.78,429.87 L210.95,428.63 L213.11,427.39 L215.28,426.16 L217.45,424.92 L219.62,423.68 L221.78,422.43 L223.95,421.19 L226.12,419.94 L228.29,418.68 L230.45,417.43 L232.62,416.16 L234.79,414.90 L236.96,413.63 L239.12,412.35 L241.29,411.06 L243.46,409.77 L245.63,408.47 L247.79,407.17 L249.96,405.85 L252.13,404.53 L254.30,403.20 L256.46,401.86 L258.63,400.51 L260.80,399.15 L262.97,397.78 L265.13,396.39 L267.30,395.00" fill="none" stroke="#e8999a" stroke-width="0.8" stroke-dasharray="0.8 1.2"/>
<line x1="74.4" y1="395.0" x2="74.4" y2="653.6" stroke="#4f9f9c" stroke-width="0.9" stroke-dasharray="1.8 1.9" stroke-opacity="1"/>
<line x1="25.4" y1="524.5" x2="291.5" y2="524.5" stroke="#4f9f9c" stroke-width="0.8" stroke-dasharray="2.2 1.6" stroke-opacity="0.9"/>
<text x="56.0" y="518.20" class="rf" textLength="35.80" lengthAdjust="spacingAndGlyphs">Ref. point = 4.18</text>
<path d="M31.19,682.30 L39.60,653.50 L40.23,651.33 L40.86,649.16 L41.47,646.98 L42.08,644.81 L42.68,642.64 L43.27,640.47 L43.86,638.29 L44.44,636.12 L45.01,633.95 L45.57,631.78 L46.13,629.61 L46.69,627.43 L47.24,625.26 L47.78,623.09 L48.32,620.92 L48.86,618.74 L49.39,616.57 L49.92,614.40 L50.45,612.23 L50.97,610.05 L51.50,607.88 L52.02,605.71 L52.54,603.54 L53.06,601.37 L53.58,599.19 L54.10,597.02 L54.62,594.85 L55.14,592.68 L55.66,590.50 L56.18,588.33 L56.70,586.16 L57.23,583.99 L57.76,581.82 L58.29,579.64 L58.83,577.47 L59.37,575.30 L59.91,573.13 L60.46,570.95 L61.01,568.78 L61.57,566.61 L62.14,564.44 L62.71,562.26 L63.28,560.09 L63.87,557.92 L64.46,555.75 L65.06,553.58 L65.66,551.40 L66.28,549.23 L66.90,547.06 L67.53,544.89 L68.18,542.71 L68.83,540.54 L69.49,538.37 L70.16,536.20 L70.85,534.03 L71.54,531.85 L72.25,529.68 L72.97,527.51 L73.70,525.34 L74.44,523.16 L75.20,520.99 L75.97,518.82 L76.76,516.65 L77.56,514.47 L78.37,512.30 L79.20,510.13 L80.05,507.96 L80.91,505.79 L81.78,503.61 L82.68,501.44 L83.59,499.27 L84.52,497.10 L85.47,494.92 L86.43,492.75 L87.41,490.58 L88.42,488.41 L89.44,486.24 L90.48,484.06 L91.54,481.89 L92.62,479.72 L93.73,477.55 L94.86,475.37 L96.02,473.20 L97.21,471.03 L98.43,468.86 L99.68,466.68 L100.98,464.51 L102.31,462.34 L103.68,460.17 L105.10,458.00 L106.57,455.82 L108.07,453.65 L109.61,451.48 L111.19,449.31 L112.81,447.13 L114.45,444.96 L116.12,442.79 L117.83,440.62 L119.55,438.45 L121.30,436.27 L123.06,434.10 L124.85,431.93 L126.65,429.76 L128.46,427.58 L130.27,425.41 L132.10,423.24 L133.92,421.07 L135.75,418.89 L137.58,416.72 L139.40,414.55 L141.21,412.38 L143.01,410.21 L144.80,408.03 L146.57,405.86 L148.33,403.69 L150.06,401.52 L151.77,399.34 L153.45,397.17 L155.10,395.00 L173.26,371.12" fill="none" stroke="#e2615d" stroke-width="1.2" stroke-linejoin="round"/>
</g>
<path d="M25.4,395.0 V653.6 H291.3" fill="none" stroke="#3c3c3c" stroke-width="0.9"/>
<line x1="22.00" y1="404.50" x2="25.4" y2="404.50" stroke="#777" stroke-width="0.6"/>
<text transform="translate(19.25,406.50) scale(0.9,1)" text-anchor="end" class="tk">10.0</text>
<line x1="22.00" y1="440.62" x2="25.4" y2="440.62" stroke="#777" stroke-width="0.6"/>
<text transform="translate(19.25,442.62) scale(0.9,1)" text-anchor="end" class="tk">5.0</text>
<line x1="22.00" y1="488.38" x2="25.4" y2="488.38" stroke="#777" stroke-width="0.6"/>
<text transform="translate(19.25,490.38) scale(0.9,1)" text-anchor="end" class="tk">2.0</text>
<line x1="22.00" y1="524.50" x2="25.4" y2="524.50" stroke="#777" stroke-width="0.6"/>
<text transform="translate(19.25,526.50) scale(0.9,1)" text-anchor="end" class="tk">1.0</text>
<line x1="22.00" y1="560.62" x2="25.4" y2="560.62" stroke="#777" stroke-width="0.6"/>
<text transform="translate(19.25,562.62) scale(0.9,1)" text-anchor="end" class="tk">0.5</text>
<line x1="22.00" y1="608.38" x2="25.4" y2="608.38" stroke="#777" stroke-width="0.6"/>
<text transform="translate(19.25,610.38) scale(0.9,1)" text-anchor="end" class="tk">0.2</text>
<line x1="22.00" y1="644.50" x2="25.4" y2="644.50" stroke="#777" stroke-width="0.6"/>
<text transform="translate(19.25,646.50) scale(0.9,1)" text-anchor="end" class="tk">0.1</text>
<line x1="69.85" y1="653.6" x2="69.85" y2="656.8" stroke="#3c3c3c" stroke-width="0.7"/>
<text transform="translate(69.85,664.60) scale(0.9,1)" text-anchor="middle" class="tk">4</text>
<line x1="118.51" y1="653.6" x2="118.51" y2="656.8" stroke="#3c3c3c" stroke-width="0.7"/>
<text transform="translate(118.51,664.60) scale(0.9,1)" text-anchor="middle" class="tk">6</text>
<line x1="167.17" y1="653.6" x2="167.17" y2="656.8" stroke="#3c3c3c" stroke-width="0.7"/>
<text transform="translate(167.17,664.60) scale(0.9,1)" text-anchor="middle" class="tk">8</text>
<line x1="215.83" y1="653.6" x2="215.83" y2="656.8" stroke="#3c3c3c" stroke-width="0.7"/>
<text transform="translate(215.83,664.60) scale(0.9,1)" text-anchor="middle" class="tk">10</text>
<line x1="264.49" y1="653.6" x2="264.49" y2="656.8" stroke="#3c3c3c" stroke-width="0.7"/>
<text transform="translate(264.49,664.60) scale(0.9,1)" text-anchor="middle" class="tk">12</text>
<text transform="translate(157.9,676.30) scale(0.9,0.95)" text-anchor="middle" class="tk">RAR</text>
<text transform="translate(6.00,524.60) rotate(-90) scale(0.92,1)" text-anchor="middle" class="hr">Hazard Ratio</text>
<text x="83.70" y="405.80" class="pv" textLength="49.80" lengthAdjust="spacingAndGlyphs">P for non−linearity: 0.033</text>
<text x="83.70" y="410.90" class="pv" textLength="36.30" lengthAdjust="spacingAndGlyphs">P for overall<0.001</text>
<text x="3.5" y="366.7" class="pl">B</text>
<clipPath id="clipC"><rect x="25.40" y="749.00" width="265.90" height="258.60"/></clipPath>
<clipPath id="pinkC"><path d="M35.00,917.20 L37.07,915.30 L39.15,913.35 L41.22,911.37 L43.29,909.35 L45.37,907.30 L47.44,905.20 L49.52,903.07 L51.59,900.91 L53.66,898.78 L55.74,896.67 L57.81,894.57 L59.88,892.50 L61.96,890.44 L64.03,888.40 L66.11,886.38 L68.18,884.38 L70.25,882.40 L72.33,880.44 L74.40,878.50 L74.71,876.31 L75.04,874.11 L75.38,871.92 L75.73,869.72 L76.10,867.53 L76.48,865.33 L76.88,863.14 L77.30,860.94 L77.73,858.75 L78.17,856.55 L78.63,854.36 L79.11,852.16 L79.60,849.97 L80.10,847.77 L80.62,845.58 L81.15,843.38 L81.70,841.19 L82.26,838.99 L82.84,836.80 L83.43,834.60 L84.03,832.41 L84.65,830.21 L85.29,828.02 L85.94,825.82 L86.60,823.63 L87.27,821.43 L87.97,819.24 L88.67,817.04 L89.39,814.85 L90.12,812.65 L90.87,810.46 L91.63,808.26 L92.41,806.07 L93.19,803.87 L94.00,801.68 L94.81,799.48 L95.64,797.29 L96.49,795.09 L97.35,792.90 L98.22,790.70 L99.10,788.51 L100.00,786.31 L100.91,784.12 L101.84,781.92 L102.78,779.73 L103.73,777.53 L104.69,775.34 L105.67,773.14 L106.66,770.95 L107.67,768.75 L108.69,766.56 L109.72,764.36 L110.76,762.17 L111.82,759.97 L112.89,757.78 L113.97,755.58 L115.07,753.39 L116.18,751.19 L117.30,749.00 L119.30,718.00 L281.30,718.00 L281.30,754.30 L278.98,755.60 L276.65,756.89 L274.33,758.17 L272.00,759.46 L269.68,760.74 L267.35,762.02 L265.03,763.29 L262.70,764.56 L260.38,765.83 L258.05,767.09 L255.73,768.36 L253.40,769.61 L251.08,770.87 L248.75,772.12 L246.43,773.37 L244.10,774.61 L241.78,775.86 L239.46,777.10 L237.13,778.33 L234.81,779.57 L232.48,780.80 L230.16,782.03 L227.83,783.25 L225.51,784.48 L223.18,785.70 L220.86,786.92 L218.53,788.13 L216.21,789.35 L213.88,790.56 L211.56,791.77 L209.23,792.97 L206.91,794.18 L204.58,795.38 L202.26,796.58 L199.93,797.77 L197.61,798.97 L195.29,800.16 L192.96,801.35 L190.64,802.54 L188.31,803.73 L185.99,804.92 L183.66,806.10 L181.34,807.28 L179.01,808.46 L176.69,809.64 L174.36,810.82 L172.04,811.99 L169.71,813.16 L167.39,814.34 L165.06,815.52 L162.74,816.73 L160.41,817.96 L158.09,819.23 L155.77,820.55 L153.44,821.91 L151.12,823.31 L148.79,824.75 L146.47,826.20 L144.14,827.69 L141.82,829.19 L139.49,830.70 L137.17,832.22 L134.84,833.74 L132.52,835.27 L130.19,836.79 L127.87,838.30 L125.54,839.82 L123.22,841.33 L120.89,842.83 L118.57,844.33 L116.24,845.83 L113.92,847.32 L111.60,848.80 L109.27,850.27 L106.95,851.74 L104.62,853.20 L102.30,854.65 L99.97,856.12 L97.65,857.61 L95.32,859.15 L93.00,860.76 L90.67,862.46 L88.35,864.27 L86.02,866.20 L83.70,868.29 L81.37,870.54 L79.05,872.98 L76.72,875.62 L74.40,878.50 L73.54,882.95 L72.65,887.40 L71.76,891.84 L70.85,896.29 L69.93,900.74 L69.01,905.19 L68.08,909.64 L67.16,914.09 L66.24,918.53 L65.33,922.98 L64.43,927.43 L63.54,931.88 L62.67,936.33 L61.82,940.78 L61.00,945.22 L60.20,949.67 L59.44,954.12 L58.70,958.57 L58.01,963.02 L57.35,967.47 L56.74,971.91 L56.18,976.36 L55.66,980.81 L55.20,985.26 L54.79,989.71 L54.45,994.16 L54.16,998.60 L53.95,1003.05 L53.80,1007.50 L53.30,1048.00 L35.00,1048.00 Z"/></clipPath>
<g clip-path="url(#clipC)">
<path d="M35.00,917.20 L37.07,915.30 L39.15,913.35 L41.22,911.37 L43.29,909.35 L45.37,907.30 L47.44,905.20 L49.52,903.07 L51.59,900.91 L53.66,898.78 L55.74,896.67 L57.81,894.57 L59.88,892.50 L61.96,890.44 L64.03,888.40 L66.11,886.38 L68.18,884.38 L70.25,882.40 L72.33,880.44 L74.40,878.50 L74.71,876.31 L75.04,874.11 L75.38,871.92 L75.73,869.72 L76.10,867.53 L76.48,865.33 L76.88,863.14 L77.30,860.94 L77.73,858.75 L78.17,856.55 L78.63,854.36 L79.11,852.16 L79.60,849.97 L80.10,847.77 L80.62,845.58 L81.15,843.38 L81.70,841.19 L82.26,838.99 L82.84,836.80 L83.43,834.60 L84.03,832.41 L84.65,830.21 L85.29,828.02 L85.94,825.82 L86.60,823.63 L87.27,821.43 L87.97,819.24 L88.67,817.04 L89.39,814.85 L90.12,812.65 L90.87,810.46 L91.63,808.26 L92.41,806.07 L93.19,803.87 L94.00,801.68 L94.81,799.48 L95.64,797.29 L96.49,795.09 L97.35,792.90 L98.22,790.70 L99.10,788.51 L100.00,786.31 L100.91,784.12 L101.84,781.92 L102.78,779.73 L103.73,777.53 L104.69,775.34 L105.67,773.14 L106.66,770.95 L107.67,768.75 L108.69,766.56 L109.72,764.36 L110.76,762.17 L111.82,759.97 L112.89,757.78 L113.97,755.58 L115.07,753.39 L116.18,751.19 L117.30,749.00 L119.30,718.00 L281.30,718.00 L281.30,754.30 L278.98,755.60 L276.65,756.89 L274.33,758.17 L272.00,759.46 L269.68,760.74 L267.35,762.02 L265.03,763.29 L262.70,764.56 L260.38,765.83 L258.05,767.09 L255.73,768.36 L253.40,769.61 L251.08,770.87 L248.75,772.12 L246.43,773.37 L244.10,774.61 L241.78,775.86 L239.46,777.10 L237.13,778.33 L234.81,779.57 L232.48,780.80 L230.16,782.03 L227.83,783.25 L225.51,784.48 L223.18,785.70 L220.86,786.92 L218.53,788.13 L216.21,789.35 L213.88,790.56 L211.56,791.77 L209.23,792.97 L206.91,794.18 L204.58,795.38 L202.26,796.58 L199.93,797.77 L197.61,798.97 L195.29,800.16 L192.96,801.35 L190.64,802.54 L188.31,803.73 L185.99,804.92 L183.66,806.10 L181.34,807.28 L179.01,808.46 L176.69,809.64 L174.36,810.82 L172.04,811.99 L169.71,813.16 L167.39,814.34 L165.06,815.52 L162.74,816.73 L160.41,817.96 L158.09,819.23 L155.77,820.55 L153.44,821.91 L151.12,823.31 L148.79,824.75 L146.47,826.20 L144.14,827.69 L141.82,829.19 L139.49,830.70 L137.17,832.22 L134.84,833.74 L132.52,835.27 L130.19,836.79 L127.87,838.30 L125.54,839.82 L123.22,841.33 L120.89,842.83 L118.57,844.33 L116.24,845.83 L113.92,847.32 L111.60,848.80 L109.27,850.27 L106.95,851.74 L104.62,853.20 L102.30,854.65 L99.97,856.12 L97.65,857.61 L95.32,859.15 L93.00,860.76 L90.67,862.46 L88.35,864.27 L86.02,866.20 L83.70,868.29 L81.37,870.54 L79.05,872.98 L76.72,875.62 L74.40,878.50 L73.54,882.95 L72.65,887.40 L71.76,891.84 L70.85,896.29 L69.93,900.74 L69.01,905.19 L68.08,909.64 L67.16,914.09 L66.24,918.53 L65.33,922.98 L64.43,927.43 L63.54,931.88 L62.67,936.33 L61.82,940.78 L61.00,945.22 L60.20,949.67 L59.44,954.12 L58.70,958.57 L58.01,963.02 L57.35,967.47 L56.74,971.91 L56.18,976.36 L55.66,980.81 L55.20,985.26 L54.79,989.71 L54.45,994.16 L54.16,998.60 L53.95,1003.05 L53.80,1007.50 L53.30,1048.00 L35.00,1048.00 Z" fill="#f9e3e1"/>
<g fill="#a7cbe8"><rect x="40.90" y="959.00" width="4.30" height="41.80"/><rect x="45.86" y="929.10" width="4.30" height="71.70"/><rect x="50.83" y="908.10" width="4.30" height="92.70"/><rect x="55.80" y="874.30" width="4.30" height="126.50"/><rect x="60.76" y="899.10" width="4.30" height="101.70"/><rect x="65.72" y="885.00" width="4.30" height="115.80"/><rect x="70.69" y="865.40" width="4.30" height="135.40"/><rect x="75.66" y="914.80" width="4.30" height="86.00"/><rect x="80.62" y="914.80" width="4.30" height="86.00"/><rect x="85.59" y="943.10" width="4.30" height="57.70"/><rect x="90.55" y="936.10" width="4.30" height="64.70"/><rect x="95.51" y="966.00" width="4.30" height="34.80"/><rect x="100.48" y="948.50" width="4.30" height="52.30"/><rect x="105.44" y="960.90" width="4.30" height="39.90"/><rect x="110.41" y="966.00" width="4.30" height="34.80"/><rect x="115.38" y="973.30" width="4.30" height="27.50"/><rect x="120.34" y="966.00" width="4.30" height="34.80"/><rect x="125.31" y="987.20" width="4.30" height="13.60"/><rect x="130.27" y="988.90" width="4.30" height="11.90"/><rect x="135.23" y="988.90" width="4.30" height="11.90"/><rect x="140.20" y="978.40" width="4.30" height="22.40"/><rect x="145.16" y="992.40" width="4.30" height="8.40"/><rect x="150.13" y="994.40" width="4.30" height="6.40"/><rect x="155.09" y="992.40" width="4.30" height="8.40"/><rect x="160.06" y="996.00" width="4.30" height="4.80"/><rect x="165.03" y="996.00" width="4.30" height="4.80"/><rect x="174.96" y="996.00" width="4.30" height="4.80"/><rect x="179.92" y="999.60" width="4.30" height="1.20"/><rect x="184.88" y="996.00" width="4.30" height="4.80"/><rect x="189.85" y="996.00" width="4.30" height="4.80"/><rect x="194.81" y="999.60" width="4.30" height="1.20"/><rect x="199.78" y="998.10" width="4.30" height="2.70"/><rect x="209.71" y="998.10" width="4.30" height="2.70"/><rect x="214.68" y="999.60" width="4.30" height="1.20"/><rect x="219.64" y="999.60" width="4.30" height="1.20"/><rect x="254.40" y="999.50" width="4.30" height="1.30"/><rect x="269.29" y="999.50" width="4.30" height="1.30"/></g>
<g fill="#b1c3df" clip-path="url(#pinkC)"><rect x="40.90" y="959.00" width="4.30" height="41.80"/><rect x="45.86" y="929.10" width="4.30" height="71.70"/><rect x="50.83" y="908.10" width="4.30" height="92.70"/><rect x="55.80" y="874.30" width="4.30" height="126.50"/><rect x="60.76" y="899.10" width="4.30" height="101.70"/><rect x="65.72" y="885.00" width="4.30" height="115.80"/><rect x="70.69" y="865.40" width="4.30" height="135.40"/><rect x="75.66" y="914.80" width="4.30" height="86.00"/><rect x="80.62" y="914.80" width="4.30" height="86.00"/><rect x="85.59" y="943.10" width="4.30" height="57.70"/><rect x="90.55" y="936.10" width="4.30" height="64.70"/><rect x="95.51" y="966.00" width="4.30" height="34.80"/><rect x="100.48" y="948.50" width="4.30" height="52.30"/><rect x="105.44" y="960.90" width="4.30" height="39.90"/><rect x="110.41" y="966.00" width="4.30" height="34.80"/><rect x="115.38" y="973.30" width="4.30" height="27.50"/><rect x="120.34" y="966.00" width="4.30" height="34.80"/><rect x="125.31" y="987.20" width="4.30" height="13.60"/><rect x="130.27" y="988.90" width="4.30" height="11.90"/><rect x="135.23" y="988.90" width="4.30" height="11.90"/><rect x="140.20" y="978.40" width="4.30" height="22.40"/><rect x="145.16" y="992.40" width="4.30" height="8.40"/><rect x="150.13" y="994.40" width="4.30" height="6.40"/><rect x="155.09" y="992.40" width="4.30" height="8.40"/><rect x="160.06" y="996.00" width="4.30" height="4.80"/><rect x="165.03" y="996.00" width="4.30" height="4.80"/><rect x="174.96" y="996.00" width="4.30" height="4.80"/><rect x="179.92" y="999.60" width="4.30" height="1.20"/><rect x="184.88" y="996.00" width="4.30" height="4.80"/><rect x="189.85" y="996.00" width="4.30" height="4.80"/><rect x="194.81" y="999.60" width="4.30" height="1.20"/><rect x="199.78" y="998.10" width="4.30" height="2.70"/><rect x="209.71" y="998.10" width="4.30" height="2.70"/><rect x="214.68" y="999.60" width="4.30" height="1.20"/><rect x="219.64" y="999.60" width="4.30" height="1.20"/><rect x="254.40" y="999.50" width="4.30" height="1.30"/><rect x="269.29" y="999.50" width="4.30" height="1.30"/></g>
<path d="M35.00,917.20 L37.07,915.30 L39.15,913.35 L41.22,911.37 L43.29,909.35 L45.37,907.30 L47.44,905.20 L49.52,903.07 L51.59,900.91 L53.66,898.78 L55.74,896.67 L57.81,894.57 L59.88,892.50 L61.96,890.44 L64.03,888.40 L66.11,886.38 L68.18,884.38 L70.25,882.40 L72.33,880.44 L74.40,878.50 L74.71,876.31 L75.04,874.11 L75.38,871.92 L75.73,869.72 L76.10,867.53 L76.48,865.33 L76.88,863.14 L77.30,860.94 L77.73,858.75 L78.17,856.55 L78.63,854.36 L79.11,852.16 L79.60,849.97 L80.10,847.77 L80.62,845.58 L81.15,843.38 L81.70,841.19 L82.26,838.99 L82.84,836.80 L83.43,834.60 L84.03,832.41 L84.65,830.21 L85.29,828.02 L85.94,825.82 L86.60,823.63 L87.27,821.43 L87.97,819.24 L88.67,817.04 L89.39,814.85 L90.12,812.65 L90.87,810.46 L91.63,808.26 L92.41,806.07 L93.19,803.87 L94.00,801.68 L94.81,799.48 L95.64,797.29 L96.49,795.09 L97.35,792.90 L98.22,790.70 L99.10,788.51 L100.00,786.31 L100.91,784.12 L101.84,781.92 L102.78,779.73 L103.73,777.53 L104.69,775.34 L105.67,773.14 L106.66,770.95 L107.67,768.75 L108.69,766.56 L109.72,764.36 L110.76,762.17 L111.82,759.97 L112.89,757.78 L113.97,755.58 L115.07,753.39 L116.18,751.19 L117.30,749.00" fill="none" stroke="#e8999a" stroke-width="0.8" stroke-dasharray="0.8 1.2"/>
<path d="M53.80,1007.50 L53.95,1003.05 L54.16,998.60 L54.45,994.16 L54.79,989.71 L55.20,985.26 L55.66,980.81 L56.18,976.36 L56.74,971.91 L57.35,967.47 L58.01,963.02 L58.70,958.57 L59.44,954.12 L60.20,949.67 L61.00,945.22 L61.82,940.78 L62.67,936.33 L63.54,931.88 L64.43,927.43 L65.33,922.98 L66.24,918.53 L67.16,914.09 L68.08,909.64 L69.01,905.19 L69.93,900.74 L70.85,896.29 L71.76,891.84 L72.65,887.40 L73.54,882.95 L74.40,878.50 L76.72,875.62 L79.05,872.98 L81.37,870.54 L83.70,868.29 L86.02,866.20 L88.35,864.27 L90.67,862.46 L93.00,860.76 L95.32,859.15 L97.65,857.61 L99.97,856.12 L102.30,854.65 L104.62,853.20 L106.95,851.74 L109.27,850.27 L111.60,848.80 L113.92,847.32 L116.24,845.83 L118.57,844.33 L120.89,842.83 L123.22,841.33 L125.54,839.82 L127.87,838.30 L130.19,836.79 L132.52,835.27 L134.84,833.74 L137.17,832.22 L139.49,830.70 L141.82,829.19 L144.14,827.69 L146.47,826.20 L148.79,824.75 L151.12,823.31 L153.44,821.91 L155.77,820.55 L158.09,819.23 L160.41,817.96 L162.74,816.73 L165.06,815.52 L167.39,814.34 L169.71,813.16 L172.04,811.99 L174.36,810.82 L176.69,809.64 L179.01,808.46 L181.34,807.28 L183.66,806.10 L185.99,804.92 L188.31,803.73 L190.64,802.54 L192.96,801.35 L195.29,800.16 L197.61,798.97 L199.93,797.77 L202.26,796.58 L204.58,795.38 L206.91,794.18 L209.23,792.97 L211.56,791.77 L213.88,790.56 L216.21,789.35 L218.53,788.13 L220.86,786.92 L223.18,785.70 L225.51,784.48 L227.83,783.25 L230.16,782.03 L232.48,780.80 L234.81,779.57 L237.13,778.33 L239.46,777.10 L241.78,775.86 L244.10,774.61 L246.43,773.37 L248.75,772.12 L251.08,770.87 L253.40,769.61 L255.73,768.36 L258.05,767.09 L260.38,765.83 L262.70,764.56 L265.03,763.29 L267.35,762.02 L269.68,760.74 L272.00,759.46 L274.33,758.17 L276.65,756.89 L278.98,755.60 L281.30,754.30" fill="none" stroke="#e8999a" stroke-width="0.8" stroke-dasharray="0.8 1.2"/>
<line x1="74.4" y1="749.0" x2="74.4" y2="1007.6" stroke="#4f9f9c" stroke-width="0.9" stroke-dasharray="1.8 1.9" stroke-opacity="1"/>
<line x1="25.4" y1="878.5" x2="291.5" y2="878.5" stroke="#4f9f9c" stroke-width="0.8" stroke-dasharray="2.2 1.6" stroke-opacity="0.9"/>
<text x="56.0" y="872.20" class="rf" textLength="35.80" lengthAdjust="spacingAndGlyphs">Ref. point = 4.18</text>
<path d="M29.26,1036.01 L38.60,1007.50 L39.31,1005.33 L40.01,1003.16 L40.69,1000.98 L41.37,998.81 L42.03,996.64 L42.67,994.47 L43.31,992.29 L43.94,990.12 L44.56,987.95 L45.16,985.78 L45.76,983.61 L46.35,981.43 L46.93,979.26 L47.50,977.09 L48.07,974.92 L48.63,972.74 L49.18,970.57 L49.73,968.40 L50.27,966.23 L50.81,964.05 L51.35,961.88 L51.88,959.71 L52.40,957.54 L52.93,955.37 L53.45,953.19 L53.97,951.02 L54.49,948.85 L55.01,946.68 L55.53,944.50 L56.05,942.33 L56.57,940.16 L57.09,937.99 L57.62,935.82 L58.15,933.64 L58.68,931.47 L59.21,929.30 L59.75,927.13 L60.29,924.95 L60.83,922.78 L61.38,920.61 L61.94,918.44 L62.51,916.26 L63.08,914.09 L63.66,911.92 L64.24,909.75 L64.84,907.58 L65.44,905.40 L66.06,903.23 L66.68,901.06 L67.31,898.89 L67.96,896.71 L68.62,894.54 L69.28,892.37 L69.97,890.20 L70.66,888.03 L71.37,885.85 L72.09,883.68 L72.83,881.51 L73.58,879.34 L74.34,877.16 L75.13,874.99 L75.93,872.82 L76.74,870.65 L77.58,868.47 L78.43,866.30 L79.30,864.13 L80.19,861.96 L81.10,859.79 L82.03,857.61 L82.98,855.44 L83.95,853.27 L84.94,851.10 L85.95,848.92 L86.99,846.75 L88.04,844.58 L89.13,842.41 L90.23,840.24 L91.36,838.06 L92.51,835.89 L93.68,833.72 L94.88,831.55 L96.11,829.37 L97.36,827.20 L98.64,825.03 L99.94,822.86 L101.27,820.68 L102.63,818.51 L104.01,816.34 L105.42,814.17 L106.86,812.00 L108.33,809.82 L109.83,807.65 L111.35,805.48 L112.91,803.31 L114.49,801.13 L116.11,798.96 L117.76,796.79 L119.43,794.62 L121.14,792.45 L122.87,790.27 L124.62,788.10 L126.40,785.93 L128.20,783.76 L130.02,781.58 L131.86,779.41 L133.71,777.24 L135.57,775.07 L137.45,772.89 L139.34,770.72 L141.24,768.55 L143.14,766.38 L145.05,764.21 L146.96,762.03 L148.87,759.86 L150.79,757.69 L152.70,755.52 L154.61,753.34 L156.51,751.17 L158.40,749.00 L178.12,726.39" fill="none" stroke="#e2615d" stroke-width="1.2" stroke-linejoin="round"/>
</g>
<path d="M25.4,749.0 V1007.6 H291.3" fill="none" stroke="#3c3c3c" stroke-width="0.9"/>
<line x1="22.00" y1="758.50" x2="25.4" y2="758.50" stroke="#777" stroke-width="0.6"/>
<text transform="translate(19.25,760.50) scale(0.9,1)" text-anchor="end" class="tk">10.0</text>
<line x1="22.00" y1="794.62" x2="25.4" y2="794.62" stroke="#777" stroke-width="0.6"/>
<text transform="translate(19.25,796.62) scale(0.9,1)" text-anchor="end" class="tk">5.0</text>
<line x1="22.00" y1="842.38" x2="25.4" y2="842.38" stroke="#777" stroke-width="0.6"/>
<text transform="translate(19.25,844.38) scale(0.9,1)" text-anchor="end" class="tk">2.0</text>
<line x1="22.00" y1="878.50" x2="25.4" y2="878.50" stroke="#777" stroke-width="0.6"/>
<text transform="translate(19.25,880.50) scale(0.9,1)" text-anchor="end" class="tk">1.0</text>
<line x1="22.00" y1="914.62" x2="25.4" y2="914.62" stroke="#777" stroke-width="0.6"/>
<text transform="translate(19.25,916.62) scale(0.9,1)" text-anchor="end" class="tk">0.5</text>
<line x1="22.00" y1="962.38" x2="25.4" y2="962.38" stroke="#777" stroke-width="0.6"/>
<text transform="translate(19.25,964.38) scale(0.9,1)" text-anchor="end" class="tk">0.2</text>
<line x1="22.00" y1="998.50" x2="25.4" y2="998.50" stroke="#777" stroke-width="0.6"/>
<text transform="translate(19.25,1000.50) scale(0.9,1)" text-anchor="end" class="tk">0.1</text>
<line x1="69.85" y1="1007.6" x2="69.85" y2="1010.8" stroke="#3c3c3c" stroke-width="0.7"/>
<text transform="translate(69.85,1018.60) scale(0.9,1)" text-anchor="middle" class="tk">4</text>
<line x1="118.51" y1="1007.6" x2="118.51" y2="1010.8" stroke="#3c3c3c" stroke-width="0.7"/>
<text transform="translate(118.51,1018.60) scale(0.9,1)" text-anchor="middle" class="tk">6</text>
<line x1="167.17" y1="1007.6" x2="167.17" y2="1010.8" stroke="#3c3c3c" stroke-width="0.7"/>
<text transform="translate(167.17,1018.60) scale(0.9,1)" text-anchor="middle" class="tk">8</text>
<line x1="215.83" y1="1007.6" x2="215.83" y2="1010.8" stroke="#3c3c3c" stroke-width="0.7"/>
<text transform="translate(215.83,1018.60) scale(0.9,1)" text-anchor="middle" class="tk">10</text>
<line x1="264.49" y1="1007.6" x2="264.49" y2="1010.8" stroke="#3c3c3c" stroke-width="0.7"/>
<text transform="translate(264.49,1018.60) scale(0.9,1)" text-anchor="middle" class="tk">12</text>
<text transform="translate(157.9,1030.30) scale(0.9,0.95)" text-anchor="middle" class="tk">RAR</text>
<text transform="translate(6.00,878.60) rotate(-90) scale(0.92,1)" text-anchor="middle" class="hr">Hazard Ratio</text>
<text x="83.70" y="759.80" class="pv" textLength="50.30" lengthAdjust="spacingAndGlyphs">P for non−linearity: 0.036</text>
<text x="83.70" y="764.90" class="pv" textLength="34.50" lengthAdjust="spacingAndGlyphs">P for overall=0.002</text>
<text x="1.0" y="730.5" class="pl">C</text>
<clipPath id="clipD"><rect x="405.80" y="41.00" width="266.00" height="258.50"/></clipPath>
<clipPath id="pinkD"><path d="M415.30,175.70 L417.48,176.30 L419.66,176.79 L421.84,177.19 L424.02,177.49 L426.19,177.69 L428.37,177.80 L430.55,177.80 L432.73,177.71 L434.91,177.52 L437.09,177.23 L439.27,176.84 L441.45,176.36 L443.63,175.78 L445.81,175.11 L447.98,174.34 L450.16,173.47 L452.34,172.51 L454.52,171.45 L456.70,170.30 L459.01,166.35 L461.31,162.61 L463.62,159.07 L465.92,155.73 L468.23,152.58 L470.53,149.61 L472.84,146.81 L475.14,144.19 L477.45,141.72 L479.76,139.41 L482.06,137.25 L484.37,135.23 L486.67,133.35 L488.98,131.59 L491.28,129.96 L493.59,128.44 L495.90,127.03 L498.20,125.72 L500.51,124.51 L502.81,123.38 L505.12,122.34 L507.42,121.37 L509.73,120.47 L512.03,119.63 L514.34,118.86 L516.65,118.14 L518.95,117.47 L521.26,116.86 L523.56,116.28 L525.87,115.75 L528.17,115.26 L530.48,114.81 L532.79,114.38 L535.09,113.98 L537.40,113.60 L539.70,113.25 L542.01,112.91 L544.31,112.58 L546.62,112.26 L548.92,111.94 L551.23,111.63 L553.54,111.31 L555.84,110.99 L558.15,110.65 L560.45,110.30 L562.76,109.94 L565.06,109.55 L567.37,109.14 L569.68,108.70 L571.98,108.24 L574.29,107.73 L576.59,107.19 L578.90,106.60 L581.20,105.97 L583.51,105.29 L585.81,104.56 L588.12,103.77 L590.43,102.93 L592.73,102.02 L595.04,101.04 L597.34,99.99 L599.65,98.87 L601.95,97.67 L604.26,96.39 L606.57,95.02 L608.87,93.57 L611.18,92.02 L613.48,90.38 L615.79,88.65 L618.09,86.81 L620.40,84.89 L622.70,82.88 L625.01,80.79 L627.32,78.62 L629.62,76.37 L631.93,74.05 L634.23,71.67 L636.54,69.21 L638.84,66.70 L641.15,64.13 L643.46,61.50 L645.76,58.83 L648.07,56.10 L650.37,53.34 L652.68,50.53 L654.98,47.69 L657.29,44.82 L659.59,41.92 L661.90,39.00 L661.90,340.00 L621.00,340.00 L620.00,306.00 L618.17,301.19 L616.33,296.49 L614.50,291.90 L612.66,287.41 L610.83,283.02 L608.99,278.73 L607.16,274.55 L605.32,270.46 L603.49,266.47 L601.65,262.58 L599.82,258.78 L597.98,255.08 L596.15,251.47 L594.31,247.95 L592.48,244.53 L590.64,241.19 L588.81,237.94 L586.97,234.78 L585.14,231.71 L583.30,228.72 L581.47,225.81 L579.63,222.99 L577.80,220.25 L575.96,217.59 L574.13,215.01 L572.29,212.50 L570.46,210.08 L568.62,207.73 L566.79,205.45 L564.96,203.24 L563.12,201.11 L561.29,199.05 L559.45,197.06 L557.62,195.14 L555.78,193.28 L553.95,191.49 L552.11,189.77 L550.28,188.11 L548.44,186.51 L546.61,184.97 L544.77,183.50 L542.94,182.08 L541.10,180.72 L539.27,179.42 L537.43,178.17 L535.60,176.98 L533.76,175.84 L531.93,174.75 L530.09,173.71 L528.26,172.73 L526.42,171.79 L524.59,170.91 L522.75,170.08 L520.92,169.30 L519.08,168.56 L517.25,167.88 L515.41,167.24 L513.58,166.66 L511.74,166.12 L509.91,165.63 L508.08,165.18 L506.24,164.78 L504.41,164.43 L502.57,164.13 L500.74,163.87 L498.90,163.65 L497.07,163.48 L495.23,163.36 L493.40,163.28 L491.56,163.24 L489.73,163.24 L487.89,163.29 L486.06,163.38 L484.22,163.52 L482.39,163.69 L480.55,163.91 L478.72,164.16 L476.88,164.46 L475.05,164.80 L473.21,165.18 L471.38,165.59 L469.54,166.05 L467.71,166.54 L465.87,167.08 L464.04,167.65 L462.20,168.25 L460.37,168.90 L458.53,169.58 L456.70,170.30 L454.97,172.70 L453.25,175.22 L451.52,177.86 L449.80,180.61 L448.07,183.47 L446.35,186.43 L444.62,189.49 L442.90,192.63 L441.18,195.86 L439.45,199.17 L437.73,202.55 L436.00,206.00 L434.27,209.51 L432.55,213.07 L430.82,216.68 L429.10,220.33 L427.38,224.02 L425.65,227.75 L423.93,231.49 L422.20,235.26 L420.48,239.04 L418.75,242.83 L417.03,246.61 L415.30,250.40 Z"/></clipPath>
<g clip-path="url(#clipD)">
<path d="M415.30,175.70 L417.48,176.30 L419.66,176.79 L421.84,177.19 L424.02,177.49 L426.19,177.69 L428.37,177.80 L430.55,177.80 L432.73,177.71 L434.91,177.52 L437.09,177.23 L439.27,176.84 L441.45,176.36 L443.63,175.78 L445.81,175.11 L447.98,174.34 L450.16,173.47 L452.34,172.51 L454.52,171.45 L456.70,170.30 L459.01,166.35 L461.31,162.61 L463.62,159.07 L465.92,155.73 L468.23,152.58 L470.53,149.61 L472.84,146.81 L475.14,144.19 L477.45,141.72 L479.76,139.41 L482.06,137.25 L484.37,135.23 L486.67,133.35 L488.98,131.59 L491.28,129.96 L493.59,128.44 L495.90,127.03 L498.20,125.72 L500.51,124.51 L502.81,123.38 L505.12,122.34 L507.42,121.37 L509.73,120.47 L512.03,119.63 L514.34,118.86 L516.65,118.14 L518.95,117.47 L521.26,116.86 L523.56,116.28 L525.87,115.75 L528.17,115.26 L530.48,114.81 L532.79,114.38 L535.09,113.98 L537.40,113.60 L539.70,113.25 L542.01,112.91 L544.31,112.58 L546.62,112.26 L548.92,111.94 L551.23,111.63 L553.54,111.31 L555.84,110.99 L558.15,110.65 L560.45,110.30 L562.76,109.94 L565.06,109.55 L567.37,109.14 L569.68,108.70 L571.98,108.24 L574.29,107.73 L576.59,107.19 L578.90,106.60 L581.20,105.97 L583.51,105.29 L585.81,104.56 L588.12,103.77 L590.43,102.93 L592.73,102.02 L595.04,101.04 L597.34,99.99 L599.65,98.87 L601.95,97.67 L604.26,96.39 L606.57,95.02 L608.87,93.57 L611.18,92.02 L613.48,90.38 L615.79,88.65 L618.09,86.81 L620.40,84.89 L622.70,82.88 L625.01,80.79 L627.32,78.62 L629.62,76.37 L631.93,74.05 L634.23,71.67 L636.54,69.21 L638.84,66.70 L641.15,64.13 L643.46,61.50 L645.76,58.83 L648.07,56.10 L650.37,53.34 L652.68,50.53 L654.98,47.69 L657.29,44.82 L659.59,41.92 L661.90,39.00 L661.90,340.00 L621.00,340.00 L620.00,306.00 L618.17,301.19 L616.33,296.49 L614.50,291.90 L612.66,287.41 L610.83,283.02 L608.99,278.73 L607.16,274.55 L605.32,270.46 L603.49,266.47 L601.65,262.58 L599.82,258.78 L597.98,255.08 L596.15,251.47 L594.31,247.95 L592.48,244.53 L590.64,241.19 L588.81,237.94 L586.97,234.78 L585.14,231.71 L583.30,228.72 L581.47,225.81 L579.63,222.99 L577.80,220.25 L575.96,217.59 L574.13,215.01 L572.29,212.50 L570.46,210.08 L568.62,207.73 L566.79,205.45 L564.96,203.24 L563.12,201.11 L561.29,199.05 L559.45,197.06 L557.62,195.14 L555.78,193.28 L553.95,191.49 L552.11,189.77 L550.28,188.11 L548.44,186.51 L546.61,184.97 L544.77,183.50 L542.94,182.08 L541.10,180.72 L539.27,179.42 L537.43,178.17 L535.60,176.98 L533.76,175.84 L531.93,174.75 L530.09,173.71 L528.26,172.73 L526.42,171.79 L524.59,170.91 L522.75,170.08 L520.92,169.30 L519.08,168.56 L517.25,167.88 L515.41,167.24 L513.58,166.66 L511.74,166.12 L509.91,165.63 L508.08,165.18 L506.24,164.78 L504.41,164.43 L502.57,164.13 L500.74,163.87 L498.90,163.65 L497.07,163.48 L495.23,163.36 L493.40,163.28 L491.56,163.24 L489.73,163.24 L487.89,163.29 L486.06,163.38 L484.22,163.52 L482.39,163.69 L480.55,163.91 L478.72,164.16 L476.88,164.46 L475.05,164.80 L473.21,165.18 L471.38,165.59 L469.54,166.05 L467.71,166.54 L465.87,167.08 L464.04,167.65 L462.20,168.25 L460.37,168.90 L458.53,169.58 L456.70,170.30 L454.97,172.70 L453.25,175.22 L451.52,177.86 L449.80,180.61 L448.07,183.47 L446.35,186.43 L444.62,189.49 L442.90,192.63 L441.18,195.86 L439.45,199.17 L437.73,202.55 L436.00,206.00 L434.27,209.51 L432.55,213.07 L430.82,216.68 L429.10,220.33 L427.38,224.02 L425.65,227.75 L423.93,231.49 L422.20,235.26 L420.48,239.04 L418.75,242.83 L417.03,246.61 L415.30,250.40 Z" fill="#f9e3e1"/>
<g fill="#a7cbe8"><rect x="419.00" y="275.10" width="4.25" height="17.70"/><rect x="423.98" y="243.90" width="4.25" height="48.90"/><rect x="428.96" y="238.80" width="4.25" height="54.00"/><rect x="433.94" y="216.60" width="4.25" height="76.20"/><rect x="438.92" y="213.60" width="4.25" height="79.20"/><rect x="443.90" y="209.50" width="4.25" height="83.30"/><rect x="448.88" y="238.00" width="4.25" height="54.80"/><rect x="453.86" y="240.90" width="4.25" height="51.90"/><rect x="458.84" y="245.00" width="4.25" height="47.80"/><rect x="463.82" y="261.10" width="4.25" height="31.70"/><rect x="468.80" y="265.00" width="4.25" height="27.80"/><rect x="473.78" y="272.00" width="4.25" height="20.80"/><rect x="478.76" y="274.20" width="4.25" height="18.60"/><rect x="483.74" y="283.20" width="4.25" height="9.60"/><rect x="488.72" y="274.10" width="4.25" height="18.70"/><rect x="493.70" y="277.00" width="4.25" height="15.80"/><rect x="498.68" y="282.20" width="4.25" height="10.60"/><rect x="503.66" y="285.30" width="4.25" height="7.50"/><rect x="508.64" y="288.10" width="4.25" height="4.70"/><rect x="513.62" y="289.30" width="4.25" height="3.50"/><rect x="518.60" y="290.30" width="4.25" height="2.50"/><rect x="523.58" y="286.20" width="4.25" height="6.60"/><rect x="528.56" y="287.20" width="4.25" height="5.60"/><rect x="533.54" y="291.10" width="4.25" height="1.70"/><rect x="538.52" y="292.00" width="4.25" height="0.80"/><rect x="543.50" y="291.10" width="4.25" height="1.70"/><rect x="548.48" y="291.10" width="4.25" height="1.70"/><rect x="553.46" y="292.00" width="4.25" height="0.80"/><rect x="558.44" y="292.00" width="4.25" height="0.80"/><rect x="563.42" y="291.00" width="4.25" height="1.80"/><rect x="568.40" y="292.00" width="4.25" height="0.80"/><rect x="588.32" y="292.00" width="4.25" height="0.80"/><rect x="603.26" y="292.00" width="4.25" height="0.80"/><rect x="653.06" y="292.00" width="4.25" height="0.80"/></g>
<g fill="#b1c3df" clip-path="url(#pinkD)"><rect x="419.00" y="275.10" width="4.25" height="17.70"/><rect x="423.98" y="243.90" width="4.25" height="48.90"/><rect x="428.96" y="238.80" width="4.25" height="54.00"/><rect x="433.94" y="216.60" width="4.25" height="76.20"/><rect x="438.92" y="213.60" width="4.25" height="79.20"/><rect x="443.90" y="209.50" width="4.25" height="83.30"/><rect x="448.88" y="238.00" width="4.25" height="54.80"/><rect x="453.86" y="240.90" width="4.25" height="51.90"/><rect x="458.84" y="245.00" width="4.25" height="47.80"/><rect x="463.82" y="261.10" width="4.25" height="31.70"/><rect x="468.80" y="265.00" width="4.25" height="27.80"/><rect x="473.78" y="272.00" width="4.25" height="20.80"/><rect x="478.76" y="274.20" width="4.25" height="18.60"/><rect x="483.74" y="283.20" width="4.25" height="9.60"/><rect x="488.72" y="274.10" width="4.25" height="18.70"/><rect x="493.70" y="277.00" width="4.25" height="15.80"/><rect x="498.68" y="282.20" width="4.25" height="10.60"/><rect x="503.66" y="285.30" width="4.25" height="7.50"/><rect x="508.64" y="288.10" width="4.25" height="4.70"/><rect x="513.62" y="289.30" width="4.25" height="3.50"/><rect x="518.60" y="290.30" width="4.25" height="2.50"/><rect x="523.58" y="286.20" width="4.25" height="6.60"/><rect x="528.56" y="287.20" width="4.25" height="5.60"/><rect x="533.54" y="291.10" width="4.25" height="1.70"/><rect x="538.52" y="292.00" width="4.25" height="0.80"/><rect x="543.50" y="291.10" width="4.25" height="1.70"/><rect x="548.48" y="291.10" width="4.25" height="1.70"/><rect x="553.46" y="292.00" width="4.25" height="0.80"/><rect x="558.44" y="292.00" width="4.25" height="0.80"/><rect x="563.42" y="291.00" width="4.25" height="1.80"/><rect x="568.40" y="292.00" width="4.25" height="0.80"/><rect x="588.32" y="292.00" width="4.25" height="0.80"/><rect x="603.26" y="292.00" width="4.25" height="0.80"/><rect x="653.06" y="292.00" width="4.25" height="0.80"/></g>
<path d="M415.30,175.70 L417.48,176.30 L419.66,176.79 L421.84,177.19 L424.02,177.49 L426.19,177.69 L428.37,177.80 L430.55,177.80 L432.73,177.71 L434.91,177.52 L437.09,177.23 L439.27,176.84 L441.45,176.36 L443.63,175.78 L445.81,175.11 L447.98,174.34 L450.16,173.47 L452.34,172.51 L454.52,171.45 L456.70,170.30 L459.01,166.35 L461.31,162.61 L463.62,159.07 L465.92,155.73 L468.23,152.58 L470.53,149.61 L472.84,146.81 L475.14,144.19 L477.45,141.72 L479.76,139.41 L482.06,137.25 L484.37,135.23 L486.67,133.35 L488.98,131.59 L491.28,129.96 L493.59,128.44 L495.90,127.03 L498.20,125.72 L500.51,124.51 L502.81,123.38 L505.12,122.34 L507.42,121.37 L509.73,120.47 L512.03,119.63 L514.34,118.86 L516.65,118.14 L518.95,117.47 L521.26,116.86 L523.56,116.28 L525.87,115.75 L528.17,115.26 L530.48,114.81 L532.79,114.38 L535.09,113.98 L537.40,113.60 L539.70,113.25 L542.01,112.91 L544.31,112.58 L546.62,112.26 L548.92,111.94 L551.23,111.63 L553.54,111.31 L555.84,110.99 L558.15,110.65 L560.45,110.30 L562.76,109.94 L565.06,109.55 L567.37,109.14 L569.68,108.70 L571.98,108.24 L574.29,107.73 L576.59,107.19 L578.90,106.60 L581.20,105.97 L583.51,105.29 L585.81,104.56 L588.12,103.77 L590.43,102.93 L592.73,102.02 L595.04,101.04 L597.34,99.99 L599.65,98.87 L601.95,97.67 L604.26,96.39 L606.57,95.02 L608.87,93.57 L611.18,92.02 L613.48,90.38 L615.79,88.65 L618.09,86.81 L620.40,84.89 L622.70,82.88 L625.01,80.79 L627.32,78.62 L629.62,76.37 L631.93,74.05 L634.23,71.67 L636.54,69.21 L638.84,66.70 L641.15,64.13 L643.46,61.50 L645.76,58.83 L648.07,56.10 L650.37,53.34 L652.68,50.53 L654.98,47.69 L657.29,44.82 L659.59,41.92 L661.90,39.00" fill="none" stroke="#e8999a" stroke-width="0.8" stroke-dasharray="0.8 1.2"/>
<path d="M415.30,250.40 L417.03,246.61 L418.75,242.83 L420.48,239.04 L422.20,235.26 L423.93,231.49 L425.65,227.75 L427.38,224.02 L429.10,220.33 L430.82,216.68 L432.55,213.07 L434.27,209.51 L436.00,206.00 L437.73,202.55 L439.45,199.17 L441.18,195.86 L442.90,192.63 L444.62,189.49 L446.35,186.43 L448.07,183.47 L449.80,180.61 L451.52,177.86 L453.25,175.22 L454.97,172.70 L456.70,170.30 L458.53,169.58 L460.37,168.90 L462.20,168.25 L464.04,167.65 L465.87,167.08 L467.71,166.54 L469.54,166.05 L471.38,165.59 L473.21,165.18 L475.05,164.80 L476.88,164.46 L478.72,164.16 L480.55,163.91 L482.39,163.69 L484.22,163.52 L486.06,163.38 L487.89,163.29 L489.73,163.24 L491.56,163.24 L493.40,163.28 L495.23,163.36 L497.07,163.48 L498.90,163.65 L500.74,163.87 L502.57,164.13 L504.41,164.43 L506.24,164.78 L508.08,165.18 L509.91,165.63 L511.74,166.12 L513.58,166.66 L515.41,167.24 L517.25,167.88 L519.08,168.56 L520.92,169.30 L522.75,170.08 L524.59,170.91 L526.42,171.79 L528.26,172.73 L530.09,173.71 L531.93,174.75 L533.76,175.84 L535.60,176.98 L537.43,178.17 L539.27,179.42 L541.10,180.72 L542.94,182.08 L544.77,183.50 L546.61,184.97 L548.44,186.51 L550.28,188.11 L552.11,189.77 L553.95,191.49 L555.78,193.28 L557.62,195.14 L559.45,197.06 L561.29,199.05 L563.12,201.11 L564.96,203.24 L566.79,205.45 L568.62,207.73 L570.46,210.08 L572.29,212.50 L574.13,215.01 L575.96,217.59 L577.80,220.25 L579.63,222.99 L581.47,225.81 L583.30,228.72 L585.14,231.71 L586.97,234.78 L588.81,237.94 L590.64,241.19 L592.48,244.53 L594.31,247.95 L596.15,251.47 L597.98,255.08 L599.82,258.78 L601.65,262.58 L603.49,266.47 L605.32,270.46 L607.16,274.55 L608.99,278.73 L610.83,283.02 L612.66,287.41 L614.50,291.90 L616.33,296.49 L618.17,301.19 L620.00,306.00" fill="none" stroke="#e8999a" stroke-width="0.8" stroke-dasharray="0.8 1.2"/>
<line x1="456.7" y1="41.0" x2="456.7" y2="299.5" stroke="#4f9f9c" stroke-width="0.9" stroke-dasharray="1.8 1.9" stroke-opacity="1"/>
<line x1="405.8" y1="170.5" x2="672.0" y2="170.5" stroke="#4f9f9c" stroke-width="0.8" stroke-dasharray="2.2 1.6" stroke-opacity="0.9"/>
<text x="437.8" y="164.20" class="rf" textLength="38.00" lengthAdjust="spacingAndGlyphs">Ref. point = 5.732</text>
<path d="M415.30,212.90 L417.37,210.98 L419.44,209.00 L421.52,206.97 L423.59,204.88 L425.66,202.76 L427.73,200.59 L429.81,198.40 L431.88,196.19 L433.95,193.96 L436.02,191.71 L438.09,189.47 L440.17,187.23 L442.24,185.00 L444.31,182.78 L446.38,180.59 L448.46,178.42 L450.53,176.29 L452.60,174.20 L454.67,172.16 L456.75,170.17 L458.82,168.24 L460.89,166.38 L462.96,164.58 L465.03,162.86 L467.11,161.22 L469.18,159.66 L471.25,158.17 L473.32,156.77 L475.40,155.43 L477.47,154.17 L479.54,152.99 L481.61,151.87 L483.68,150.83 L485.76,149.86 L487.83,148.96 L489.90,148.13 L491.97,147.37 L494.05,146.68 L496.12,146.06 L498.19,145.50 L500.26,145.00 L502.34,144.58 L504.41,144.21 L506.48,143.91 L508.55,143.68 L510.62,143.50 L512.70,143.39 L514.77,143.33 L516.84,143.34 L518.91,143.40 L520.99,143.52 L523.06,143.70 L525.13,143.93 L527.20,144.22 L529.27,144.57 L531.35,144.96 L533.42,145.41 L535.49,145.90 L537.56,146.44 L539.64,147.03 L541.71,147.66 L543.78,148.33 L545.85,149.04 L547.93,149.79 L550.00,150.57 L552.07,151.40 L554.14,152.25 L556.21,153.14 L558.29,154.05 L560.36,155.00 L562.43,155.97 L564.50,156.96 L566.58,157.99 L568.65,159.03 L570.72,160.11 L572.79,161.22 L574.86,162.36 L576.94,163.53 L579.01,164.74 L581.08,165.99 L583.15,167.27 L585.23,168.60 L587.30,169.97 L589.37,171.39 L591.44,172.85 L593.52,174.35 L595.59,175.90 L597.66,177.48 L599.73,179.11 L601.80,180.77 L603.88,182.46 L605.95,184.19 L608.02,185.96 L610.09,187.75 L612.17,189.57 L614.24,191.42 L616.31,193.30 L618.38,195.20 L620.45,197.13 L622.53,199.08 L624.60,201.04 L626.67,203.03 L628.74,205.03 L630.82,207.05 L632.89,209.09 L634.96,211.13 L637.03,213.19 L639.11,215.26 L641.18,217.33 L643.25,219.41 L645.32,221.50 L647.39,223.59 L649.47,225.69 L651.54,227.78 L653.61,229.87 L655.68,231.96 L657.76,234.05 L659.83,236.13 L661.90,238.20" fill="none" stroke="#e2615d" stroke-width="1.2" stroke-linejoin="round"/>
</g>
<path d="M405.8,41.0 V299.5 H671.8" fill="none" stroke="#3c3c3c" stroke-width="0.9"/>
<line x1="402.40" y1="50.50" x2="405.8" y2="50.50" stroke="#3c3c3c" stroke-width="0.75"/>
<text transform="translate(399.2,52.50) scale(0.9,1)" text-anchor="end" class="tk">10.0</text>
<line x1="402.40" y1="86.62" x2="405.8" y2="86.62" stroke="#3c3c3c" stroke-width="0.75"/>
<text transform="translate(399.2,88.62) scale(0.9,1)" text-anchor="end" class="tk">5.0</text>
<line x1="402.40" y1="134.38" x2="405.8" y2="134.38" stroke="#3c3c3c" stroke-width="0.75"/>
<text transform="translate(399.2,136.38) scale(0.9,1)" text-anchor="end" class="tk">2.0</text>
<line x1="402.40" y1="170.50" x2="405.8" y2="170.50" stroke="#3c3c3c" stroke-width="0.75"/>
<text transform="translate(399.2,172.50) scale(0.9,1)" text-anchor="end" class="tk">1.0</text>
<line x1="402.40" y1="206.62" x2="405.8" y2="206.62" stroke="#3c3c3c" stroke-width="0.75"/>
<text transform="translate(399.2,208.62) scale(0.9,1)" text-anchor="end" class="tk">0.5</text>
<line x1="402.40" y1="254.38" x2="405.8" y2="254.38" stroke="#3c3c3c" stroke-width="0.75"/>
<text transform="translate(399.2,256.38) scale(0.9,1)" text-anchor="end" class="tk">0.2</text>
<line x1="402.40" y1="290.50" x2="405.8" y2="290.50" stroke="#3c3c3c" stroke-width="0.75"/>
<text transform="translate(399.2,292.50) scale(0.9,1)" text-anchor="end" class="tk">0.1</text>
<line x1="446.20" y1="299.5" x2="446.20" y2="302.7" stroke="#3c3c3c" stroke-width="0.7"/>
<text transform="translate(446.20,310.60) scale(0.9,1)" text-anchor="middle" class="tk">5</text>
<line x1="517.20" y1="299.5" x2="517.20" y2="302.7" stroke="#3c3c3c" stroke-width="0.7"/>
<text transform="translate(517.20,310.60) scale(0.9,1)" text-anchor="middle" class="tk">10</text>
<line x1="588.20" y1="299.5" x2="588.20" y2="302.7" stroke="#3c3c3c" stroke-width="0.7"/>
<text transform="translate(588.20,310.60) scale(0.9,1)" text-anchor="middle" class="tk">15</text>
<line x1="659.20" y1="299.5" x2="659.20" y2="302.7" stroke="#3c3c3c" stroke-width="0.7"/>
<text transform="translate(659.20,310.60) scale(0.9,1)" text-anchor="middle" class="tk">20</text>
<text transform="translate(538.2,322.30) scale(0.9,0.95)" text-anchor="middle" class="tk">RAR</text>
<text transform="translate(386.20,170.60) rotate(-90) scale(0.92,1)" text-anchor="middle" class="hr">Hazard Ratio</text>
<text x="464.00" y="51.80" class="pv" textLength="50.40" lengthAdjust="spacingAndGlyphs">P for non−linearity: 0.013</text>
<text x="464.00" y="56.90" class="pv" textLength="36.20" lengthAdjust="spacingAndGlyphs">P for overall=0.002</text>
<text x="381.4" y="17.9" class="pl">D</text>
<clipPath id="clipE"><rect x="405.80" y="395.00" width="267.40" height="258.50"/></clipPath>
<clipPath id="pinkE"><path d="M415.30,529.70 L417.49,530.30 L419.68,530.80 L421.87,531.21 L424.06,531.51 L426.25,531.70 L428.44,531.80 L430.63,531.80 L432.82,531.70 L435.01,531.49 L437.19,531.19 L439.38,530.79 L441.57,530.30 L443.76,529.72 L445.95,529.04 L448.14,528.28 L450.33,527.42 L452.52,526.47 L454.71,525.43 L456.90,524.30 L459.22,520.46 L461.54,516.82 L463.86,513.38 L466.18,510.13 L468.50,507.06 L470.81,504.17 L473.13,501.45 L475.45,498.89 L477.77,496.49 L480.09,494.24 L482.41,492.14 L484.73,490.18 L487.05,488.35 L489.37,486.65 L491.69,485.06 L494.01,483.59 L496.32,482.23 L498.64,480.97 L500.96,479.80 L503.28,478.72 L505.60,477.72 L507.92,476.80 L510.24,475.95 L512.56,475.17 L514.88,474.44 L517.20,473.77 L519.52,473.16 L521.83,472.59 L524.15,472.07 L526.47,471.59 L528.79,471.14 L531.11,470.73 L533.43,470.34 L535.75,469.97 L538.07,469.62 L540.39,469.29 L542.71,468.97 L545.03,468.65 L547.34,468.33 L549.66,468.01 L551.98,467.69 L554.30,467.35 L556.62,467.00 L558.94,466.63 L561.26,466.24 L563.58,465.83 L565.90,465.40 L568.22,464.94 L570.54,464.46 L572.86,463.95 L575.17,463.40 L577.49,462.83 L579.81,462.22 L582.13,461.57 L584.45,460.88 L586.77,460.16 L589.09,459.39 L591.41,458.57 L593.73,457.71 L596.05,456.80 L598.37,455.84 L600.68,454.83 L603.00,453.76 L605.32,452.64 L607.64,451.46 L609.96,450.22 L612.28,448.92 L614.60,447.55 L616.92,446.11 L619.24,444.61 L621.56,443.04 L623.88,441.39 L626.19,439.68 L628.51,437.88 L630.83,436.01 L633.15,434.06 L635.47,432.02 L637.79,429.90 L640.11,427.70 L642.43,425.41 L644.75,423.02 L647.07,420.55 L649.39,417.98 L651.70,415.32 L654.02,412.56 L656.34,409.70 L658.66,406.73 L660.98,403.67 L663.30,400.50 L663.30,694.00 L621.50,694.00 L620.50,660.00 L618.66,655.36 L616.82,650.82 L614.99,646.38 L613.15,642.03 L611.31,637.77 L609.47,633.60 L607.63,629.52 L605.79,625.54 L603.96,621.64 L602.12,617.83 L600.28,614.11 L598.44,610.47 L596.60,606.92 L594.77,603.45 L592.93,600.07 L591.09,596.77 L589.25,593.55 L587.41,590.41 L585.57,587.35 L583.74,584.38 L581.90,581.48 L580.06,578.65 L578.22,575.91 L576.38,573.24 L574.54,570.64 L572.71,568.12 L570.87,565.67 L569.03,563.30 L567.19,560.99 L565.35,558.76 L563.52,556.59 L561.68,554.49 L559.84,552.46 L558.00,550.50 L556.16,548.61 L554.32,546.77 L552.49,545.01 L550.65,543.30 L548.81,541.66 L546.97,540.08 L545.13,538.56 L543.30,537.10 L541.46,535.70 L539.62,534.36 L537.78,533.07 L535.94,531.84 L534.10,530.67 L532.27,529.55 L530.43,528.48 L528.59,527.47 L526.75,526.51 L524.91,525.60 L523.08,524.74 L521.24,523.94 L519.40,523.19 L517.56,522.48 L515.72,521.83 L513.88,521.23 L512.05,520.67 L510.21,520.17 L508.37,519.71 L506.53,519.30 L504.69,518.94 L502.86,518.62 L501.02,518.35 L499.18,518.12 L497.34,517.94 L495.50,517.80 L493.66,517.71 L491.83,517.66 L489.99,517.66 L488.15,517.69 L486.31,517.77 L484.47,517.89 L482.63,518.05 L480.80,518.25 L478.96,518.49 L477.12,518.77 L475.28,519.09 L473.44,519.44 L471.61,519.84 L469.77,520.27 L467.93,520.74 L466.09,521.24 L464.25,521.78 L462.41,522.36 L460.58,522.97 L458.74,523.62 L456.90,524.30 L455.17,526.62 L453.43,529.07 L451.70,531.66 L449.97,534.38 L448.23,537.21 L446.50,540.15 L444.77,543.20 L443.03,546.34 L441.30,549.58 L439.57,552.90 L437.83,556.29 L436.10,559.76 L434.37,563.29 L432.63,566.88 L430.90,570.52 L429.17,574.20 L427.43,577.92 L425.70,581.67 L423.97,585.44 L422.23,589.23 L420.50,593.02 L418.77,596.82 L417.03,600.62 L415.30,604.40 Z"/></clipPath>
<g clip-path="url(#clipE)">
<path d="M415.30,529.70 L417.49,530.30 L419.68,530.80 L421.87,531.21 L424.06,531.51 L426.25,531.70 L428.44,531.80 L430.63,531.80 L432.82,531.70 L435.01,531.49 L437.19,531.19 L439.38,530.79 L441.57,530.30 L443.76,529.72 L445.95,529.04 L448.14,528.28 L450.33,527.42 L452.52,526.47 L454.71,525.43 L456.90,524.30 L459.22,520.46 L461.54,516.82 L463.86,513.38 L466.18,510.13 L468.50,507.06 L470.81,504.17 L473.13,501.45 L475.45,498.89 L477.77,496.49 L480.09,494.24 L482.41,492.14 L484.73,490.18 L487.05,488.35 L489.37,486.65 L491.69,485.06 L494.01,483.59 L496.32,482.23 L498.64,480.97 L500.96,479.80 L503.28,478.72 L505.60,477.72 L507.92,476.80 L510.24,475.95 L512.56,475.17 L514.88,474.44 L517.20,473.77 L519.52,473.16 L521.83,472.59 L524.15,472.07 L526.47,471.59 L528.79,471.14 L531.11,470.73 L533.43,470.34 L535.75,469.97 L538.07,469.62 L540.39,469.29 L542.71,468.97 L545.03,468.65 L547.34,468.33 L549.66,468.01 L551.98,467.69 L554.30,467.35 L556.62,467.00 L558.94,466.63 L561.26,466.24 L563.58,465.83 L565.90,465.40 L568.22,464.94 L570.54,464.46 L572.86,463.95 L575.17,463.40 L577.49,462.83 L579.81,462.22 L582.13,461.57 L584.45,460.88 L586.77,460.16 L589.09,459.39 L591.41,458.57 L593.73,457.71 L596.05,456.80 L598.37,455.84 L600.68,454.83 L603.00,453.76 L605.32,452.64 L607.64,451.46 L609.96,450.22 L612.28,448.92 L614.60,447.55 L616.92,446.11 L619.24,444.61 L621.56,443.04 L623.88,441.39 L626.19,439.68 L628.51,437.88 L630.83,436.01 L633.15,434.06 L635.47,432.02 L637.79,429.90 L640.11,427.70 L642.43,425.41 L644.75,423.02 L647.07,420.55 L649.39,417.98 L651.70,415.32 L654.02,412.56 L656.34,409.70 L658.66,406.73 L660.98,403.67 L663.30,400.50 L663.30,694.00 L621.50,694.00 L620.50,660.00 L618.66,655.36 L616.82,650.82 L614.99,646.38 L613.15,642.03 L611.31,637.77 L609.47,633.60 L607.63,629.52 L605.79,625.54 L603.96,621.64 L602.12,617.83 L600.28,614.11 L598.44,610.47 L596.60,606.92 L594.77,603.45 L592.93,600.07 L591.09,596.77 L589.25,593.55 L587.41,590.41 L585.57,587.35 L583.74,584.38 L581.90,581.48 L580.06,578.65 L578.22,575.91 L576.38,573.24 L574.54,570.64 L572.71,568.12 L570.87,565.67 L569.03,563.30 L567.19,560.99 L565.35,558.76 L563.52,556.59 L561.68,554.49 L559.84,552.46 L558.00,550.50 L556.16,548.61 L554.32,546.77 L552.49,545.01 L550.65,543.30 L548.81,541.66 L546.97,540.08 L545.13,538.56 L543.30,537.10 L541.46,535.70 L539.62,534.36 L537.78,533.07 L535.94,531.84 L534.10,530.67 L532.27,529.55 L530.43,528.48 L528.59,527.47 L526.75,526.51 L524.91,525.60 L523.08,524.74 L521.24,523.94 L519.40,523.19 L517.56,522.48 L515.72,521.83 L513.88,521.23 L512.05,520.67 L510.21,520.17 L508.37,519.71 L506.53,519.30 L504.69,518.94 L502.86,518.62 L501.02,518.35 L499.18,518.12 L497.34,517.94 L495.50,517.80 L493.66,517.71 L491.83,517.66 L489.99,517.66 L488.15,517.69 L486.31,517.77 L484.47,517.89 L482.63,518.05 L480.80,518.25 L478.96,518.49 L477.12,518.77 L475.28,519.09 L473.44,519.44 L471.61,519.84 L469.77,520.27 L467.93,520.74 L466.09,521.24 L464.25,521.78 L462.41,522.36 L460.58,522.97 L458.74,523.62 L456.90,524.30 L455.17,526.62 L453.43,529.07 L451.70,531.66 L449.97,534.38 L448.23,537.21 L446.50,540.15 L444.77,543.20 L443.03,546.34 L441.30,549.58 L439.57,552.90 L437.83,556.29 L436.10,559.76 L434.37,563.29 L432.63,566.88 L430.90,570.52 L429.17,574.20 L427.43,577.92 L425.70,581.67 L423.97,585.44 L422.23,589.23 L420.50,593.02 L418.77,596.82 L417.03,600.62 L415.30,604.40 Z" fill="#f9e3e1"/>
<g fill="#a7cbe8"><rect x="419.00" y="629.10" width="4.30" height="17.70"/><rect x="424.00" y="597.90" width="4.30" height="48.90"/><rect x="429.00" y="592.80" width="4.30" height="54.00"/><rect x="434.00" y="570.60" width="4.30" height="76.20"/><rect x="439.00" y="567.60" width="4.30" height="79.20"/><rect x="444.00" y="563.50" width="4.30" height="83.30"/><rect x="449.00" y="592.00" width="4.30" height="54.80"/><rect x="454.00" y="594.90" width="4.30" height="51.90"/><rect x="459.00" y="599.00" width="4.30" height="47.80"/><rect x="464.00" y="615.10" width="4.30" height="31.70"/><rect x="469.00" y="619.00" width="4.30" height="27.80"/><rect x="474.00" y="626.00" width="4.30" height="20.80"/><rect x="479.00" y="628.20" width="4.30" height="18.60"/><rect x="484.00" y="637.20" width="4.30" height="9.60"/><rect x="489.00" y="628.10" width="4.30" height="18.70"/><rect x="494.00" y="631.00" width="4.30" height="15.80"/><rect x="499.00" y="636.20" width="4.30" height="10.60"/><rect x="504.00" y="639.30" width="4.30" height="7.50"/><rect x="509.00" y="642.10" width="4.30" height="4.70"/><rect x="514.00" y="643.30" width="4.30" height="3.50"/><rect x="519.00" y="644.30" width="4.30" height="2.50"/><rect x="524.00" y="640.20" width="4.30" height="6.60"/><rect x="529.00" y="641.20" width="4.30" height="5.60"/><rect x="534.00" y="645.10" width="4.30" height="1.70"/><rect x="539.00" y="646.00" width="4.30" height="0.80"/><rect x="544.00" y="645.10" width="4.30" height="1.70"/><rect x="549.00" y="645.10" width="4.30" height="1.70"/><rect x="554.00" y="646.00" width="4.30" height="0.80"/><rect x="559.00" y="646.00" width="4.30" height="0.80"/><rect x="564.00" y="645.00" width="4.30" height="1.80"/><rect x="569.00" y="646.00" width="4.30" height="0.80"/><rect x="589.00" y="646.00" width="4.30" height="0.80"/><rect x="604.00" y="646.00" width="4.30" height="0.80"/><rect x="654.00" y="646.00" width="4.30" height="0.80"/></g>
<g fill="#b1c3df" clip-path="url(#pinkE)"><rect x="419.00" y="629.10" width="4.30" height="17.70"/><rect x="424.00" y="597.90" width="4.30" height="48.90"/><rect x="429.00" y="592.80" width="4.30" height="54.00"/><rect x="434.00" y="570.60" width="4.30" height="76.20"/><rect x="439.00" y="567.60" width="4.30" height="79.20"/><rect x="444.00" y="563.50" width="4.30" height="83.30"/><rect x="449.00" y="592.00" width="4.30" height="54.80"/><rect x="454.00" y="594.90" width="4.30" height="51.90"/><rect x="459.00" y="599.00" width="4.30" height="47.80"/><rect x="464.00" y="615.10" width="4.30" height="31.70"/><rect x="469.00" y="619.00" width="4.30" height="27.80"/><rect x="474.00" y="626.00" width="4.30" height="20.80"/><rect x="479.00" y="628.20" width="4.30" height="18.60"/><rect x="484.00" y="637.20" width="4.30" height="9.60"/><rect x="489.00" y="628.10" width="4.30" height="18.70"/><rect x="494.00" y="631.00" width="4.30" height="15.80"/><rect x="499.00" y="636.20" width="4.30" height="10.60"/><rect x="504.00" y="639.30" width="4.30" height="7.50"/><rect x="509.00" y="642.10" width="4.30" height="4.70"/><rect x="514.00" y="643.30" width="4.30" height="3.50"/><rect x="519.00" y="644.30" width="4.30" height="2.50"/><rect x="524.00" y="640.20" width="4.30" height="6.60"/><rect x="529.00" y="641.20" width="4.30" height="5.60"/><rect x="534.00" y="645.10" width="4.30" height="1.70"/><rect x="539.00" y="646.00" width="4.30" height="0.80"/><rect x="544.00" y="645.10" width="4.30" height="1.70"/><rect x="549.00" y="645.10" width="4.30" height="1.70"/><rect x="554.00" y="646.00" width="4.30" height="0.80"/><rect x="559.00" y="646.00" width="4.30" height="0.80"/><rect x="564.00" y="645.00" width="4.30" height="1.80"/><rect x="569.00" y="646.00" width="4.30" height="0.80"/><rect x="589.00" y="646.00" width="4.30" height="0.80"/><rect x="604.00" y="646.00" width="4.30" height="0.80"/><rect x="654.00" y="646.00" width="4.30" height="0.80"/></g>
<path d="M415.30,529.70 L417.49,530.30 L419.68,530.80 L421.87,531.21 L424.06,531.51 L426.25,531.70 L428.44,531.80 L430.63,531.80 L432.82,531.70 L435.01,531.49 L437.19,531.19 L439.38,530.79 L441.57,530.30 L443.76,529.72 L445.95,529.04 L448.14,528.28 L450.33,527.42 L452.52,526.47 L454.71,525.43 L456.90,524.30 L459.22,520.46 L461.54,516.82 L463.86,513.38 L466.18,510.13 L468.50,507.06 L470.81,504.17 L473.13,501.45 L475.45,498.89 L477.77,496.49 L480.09,494.24 L482.41,492.14 L484.73,490.18 L487.05,488.35 L489.37,486.65 L491.69,485.06 L494.01,483.59 L496.32,482.23 L498.64,480.97 L500.96,479.80 L503.28,478.72 L505.60,477.72 L507.92,476.80 L510.24,475.95 L512.56,475.17 L514.88,474.44 L517.20,473.77 L519.52,473.16 L521.83,472.59 L524.15,472.07 L526.47,471.59 L528.79,471.14 L531.11,470.73 L533.43,470.34 L535.75,469.97 L538.07,469.62 L540.39,469.29 L542.71,468.97 L545.03,468.65 L547.34,468.33 L549.66,468.01 L551.98,467.69 L554.30,467.35 L556.62,467.00 L558.94,466.63 L561.26,466.24 L563.58,465.83 L565.90,465.40 L568.22,464.94 L570.54,464.46 L572.86,463.95 L575.17,463.40 L577.49,462.83 L579.81,462.22 L582.13,461.57 L584.45,460.88 L586.77,460.16 L589.09,459.39 L591.41,458.57 L593.73,457.71 L596.05,456.80 L598.37,455.84 L600.68,454.83 L603.00,453.76 L605.32,452.64 L607.64,451.46 L609.96,450.22 L612.28,448.92 L614.60,447.55 L616.92,446.11 L619.24,444.61 L621.56,443.04 L623.88,441.39 L626.19,439.68 L628.51,437.88 L630.83,436.01 L633.15,434.06 L635.47,432.02 L637.79,429.90 L640.11,427.70 L642.43,425.41 L644.75,423.02 L647.07,420.55 L649.39,417.98 L651.70,415.32 L654.02,412.56 L656.34,409.70 L658.66,406.73 L660.98,403.67 L663.30,400.50" fill="none" stroke="#e8999a" stroke-width="0.8" stroke-dasharray="0.8 1.2"/>
<path d="M415.30,604.40 L417.03,600.62 L418.77,596.82 L420.50,593.02 L422.23,589.23 L423.97,585.44 L425.70,581.67 L427.43,577.92 L429.17,574.20 L430.90,570.52 L432.63,566.88 L434.37,563.29 L436.10,559.76 L437.83,556.29 L439.57,552.90 L441.30,549.58 L443.03,546.34 L444.77,543.20 L446.50,540.15 L448.23,537.21 L449.97,534.38 L451.70,531.66 L453.43,529.07 L455.17,526.62 L456.90,524.30 L458.74,523.62 L460.58,522.97 L462.41,522.36 L464.25,521.78 L466.09,521.24 L467.93,520.74 L469.77,520.27 L471.61,519.84 L473.44,519.44 L475.28,519.09 L477.12,518.77 L478.96,518.49 L480.80,518.25 L482.63,518.05 L484.47,517.89 L486.31,517.77 L488.15,517.69 L489.99,517.66 L491.83,517.66 L493.66,517.71 L495.50,517.80 L497.34,517.94 L499.18,518.12 L501.02,518.35 L502.86,518.62 L504.69,518.94 L506.53,519.30 L508.37,519.71 L510.21,520.17 L512.05,520.67 L513.88,521.23 L515.72,521.83 L517.56,522.48 L519.40,523.19 L521.24,523.94 L523.08,524.74 L524.91,525.60 L526.75,526.51 L528.59,527.47 L530.43,528.48 L532.27,529.55 L534.10,530.67 L535.94,531.84 L537.78,533.07 L539.62,534.36 L541.46,535.70 L543.30,537.10 L545.13,538.56 L546.97,540.08 L548.81,541.66 L550.65,543.30 L552.49,545.01 L554.32,546.77 L556.16,548.61 L558.00,550.50 L559.84,552.46 L561.68,554.49 L563.52,556.59 L565.35,558.76 L567.19,560.99 L569.03,563.30 L570.87,565.67 L572.71,568.12 L574.54,570.64 L576.38,573.24 L578.22,575.91 L580.06,578.65 L581.90,581.48 L583.74,584.38 L585.57,587.35 L587.41,590.41 L589.25,593.55 L591.09,596.77 L592.93,600.07 L594.77,603.45 L596.60,606.92 L598.44,610.47 L600.28,614.11 L602.12,617.83 L603.96,621.64 L605.79,625.54 L607.63,629.52 L609.47,633.60 L611.31,637.77 L613.15,642.03 L614.99,646.38 L616.82,650.82 L618.66,655.36 L620.50,660.00" fill="none" stroke="#e8999a" stroke-width="0.8" stroke-dasharray="0.8 1.2"/>
<line x1="457.1" y1="395.0" x2="457.1" y2="653.5" stroke="#4f9f9c" stroke-width="0.9" stroke-dasharray="1.8 1.9" stroke-opacity="1"/>
<line x1="405.8" y1="524.5" x2="673.4000000000001" y2="524.5" stroke="#4f9f9c" stroke-width="0.8" stroke-dasharray="2.2 1.6" stroke-opacity="0.9"/>
<text x="437.8" y="518.20" class="rf" textLength="38.00" lengthAdjust="spacingAndGlyphs">Ref. point = 5.732</text>
<path d="M415.30,566.90 L417.38,564.88 L419.47,562.85 L421.55,560.79 L423.64,558.72 L425.72,556.62 L427.80,554.51 L429.89,552.38 L431.97,550.24 L434.06,548.08 L436.14,545.91 L438.22,543.72 L440.31,541.53 L442.39,539.32 L444.48,537.11 L446.56,534.88 L448.64,532.66 L450.73,530.45 L452.81,528.26 L454.90,526.11 L456.98,524.01 L459.06,521.98 L461.15,520.02 L463.23,518.14 L465.32,516.37 L467.40,514.70 L469.48,513.13 L471.57,511.66 L473.65,510.28 L475.74,509.00 L477.82,507.81 L479.91,506.70 L481.99,505.69 L484.07,504.75 L486.16,503.90 L488.24,503.13 L490.33,502.43 L492.41,501.82 L494.49,501.27 L496.58,500.79 L498.66,500.39 L500.75,500.04 L502.83,499.77 L504.91,499.55 L507.00,499.39 L509.08,499.29 L511.17,499.24 L513.25,499.25 L515.33,499.31 L517.42,499.41 L519.50,499.56 L521.59,499.75 L523.67,499.98 L525.75,500.25 L527.84,500.56 L529.92,500.91 L532.01,501.29 L534.09,501.72 L536.17,502.18 L538.26,502.67 L540.34,503.21 L542.43,503.78 L544.51,504.40 L546.59,505.05 L548.68,505.73 L550.76,506.46 L552.85,507.23 L554.93,508.03 L557.01,508.87 L559.10,509.75 L561.18,510.67 L563.27,511.63 L565.35,512.63 L567.43,513.67 L569.52,514.74 L571.60,515.86 L573.69,517.01 L575.77,518.20 L577.85,519.43 L579.94,520.71 L582.02,522.02 L584.11,523.37 L586.19,524.76 L588.27,526.19 L590.36,527.66 L592.44,529.17 L594.53,530.71 L596.61,532.29 L598.69,533.90 L600.78,535.55 L602.86,537.23 L604.95,538.94 L607.03,540.68 L609.12,542.45 L611.20,544.25 L613.28,546.08 L615.37,547.93 L617.45,549.80 L619.54,551.70 L621.62,553.62 L623.70,555.57 L625.79,557.53 L627.87,559.51 L629.96,561.51 L632.04,563.52 L634.12,565.55 L636.21,567.60 L638.29,569.66 L640.38,571.73 L642.46,573.81 L644.54,575.90 L646.63,578.01 L648.71,580.11 L650.80,582.23 L652.88,584.35 L654.96,586.48 L657.05,588.61 L659.13,590.74 L661.22,592.87 L663.30,595.00" fill="none" stroke="#e2615d" stroke-width="1.2" stroke-linejoin="round"/>
</g>
<path d="M405.8,395.0 V653.5 H673.2" fill="none" stroke="#3c3c3c" stroke-width="0.9"/>
<line x1="402.40" y1="404.50" x2="405.8" y2="404.50" stroke="#3c3c3c" stroke-width="0.75"/>
<text transform="translate(399.2,406.50) scale(0.9,1)" text-anchor="end" class="tk">10.0</text>
<line x1="402.40" y1="440.62" x2="405.8" y2="440.62" stroke="#3c3c3c" stroke-width="0.75"/>
<text transform="translate(399.2,442.62) scale(0.9,1)" text-anchor="end" class="tk">5.0</text>
<line x1="402.40" y1="488.38" x2="405.8" y2="488.38" stroke="#3c3c3c" stroke-width="0.75"/>
<text transform="translate(399.2,490.38) scale(0.9,1)" text-anchor="end" class="tk">2.0</text>
<line x1="402.40" y1="524.50" x2="405.8" y2="524.50" stroke="#3c3c3c" stroke-width="0.75"/>
<text transform="translate(399.2,526.50) scale(0.9,1)" text-anchor="end" class="tk">1.0</text>
<line x1="402.40" y1="560.62" x2="405.8" y2="560.62" stroke="#3c3c3c" stroke-width="0.75"/>
<text transform="translate(399.2,562.62) scale(0.9,1)" text-anchor="end" class="tk">0.5</text>
<line x1="402.40" y1="608.38" x2="405.8" y2="608.38" stroke="#3c3c3c" stroke-width="0.75"/>
<text transform="translate(399.2,610.38) scale(0.9,1)" text-anchor="end" class="tk">0.2</text>
<line x1="402.40" y1="644.50" x2="405.8" y2="644.50" stroke="#3c3c3c" stroke-width="0.75"/>
<text transform="translate(399.2,646.50) scale(0.9,1)" text-anchor="end" class="tk">0.1</text>
<line x1="446.50" y1="653.5" x2="446.50" y2="656.7" stroke="#3c3c3c" stroke-width="0.7"/>
<text transform="translate(446.50,664.60) scale(0.9,1)" text-anchor="middle" class="tk">5</text>
<line x1="517.80" y1="653.5" x2="517.80" y2="656.7" stroke="#3c3c3c" stroke-width="0.7"/>
<text transform="translate(517.80,664.60) scale(0.9,1)" text-anchor="middle" class="tk">10</text>
<line x1="589.10" y1="653.5" x2="589.10" y2="656.7" stroke="#3c3c3c" stroke-width="0.7"/>
<text transform="translate(589.10,664.60) scale(0.9,1)" text-anchor="middle" class="tk">15</text>
<line x1="660.40" y1="653.5" x2="660.40" y2="656.7" stroke="#3c3c3c" stroke-width="0.7"/>
<text transform="translate(660.40,664.60) scale(0.9,1)" text-anchor="middle" class="tk">20</text>
<text transform="translate(538.2,676.30) scale(0.9,0.95)" text-anchor="middle" class="tk">RAR</text>
<text transform="translate(386.20,524.60) rotate(-90) scale(0.92,1)" text-anchor="middle" class="hr">Hazard Ratio</text>
<text x="465.80" y="405.80" class="pv" textLength="47.70" lengthAdjust="spacingAndGlyphs">P for non−linearity: 0.01</text>
<text x="465.80" y="410.90" class="pv" textLength="35.50" lengthAdjust="spacingAndGlyphs">P for overall=0.002</text>
<text x="381.5" y="366.7" class="pl">E</text>
<clipPath id="clipF"><rect x="405.80" y="749.00" width="265.70" height="258.50"/></clipPath>
<clipPath id="pinkF"><path d="M415.30,879.50 L417.48,880.47 L419.66,881.31 L421.84,882.04 L424.02,882.64 L426.19,883.13 L428.37,883.49 L430.55,883.73 L432.73,883.85 L434.91,883.85 L437.09,883.73 L439.27,883.49 L441.45,883.13 L443.63,882.67 L445.81,882.13 L447.98,881.51 L450.16,880.82 L452.34,880.06 L454.52,879.22 L456.70,878.30 L458.89,873.91 L461.09,869.74 L463.28,865.77 L465.48,862.01 L467.67,858.45 L469.87,855.09 L472.06,851.92 L474.26,848.94 L476.45,846.14 L478.64,843.52 L480.84,841.08 L483.03,838.81 L485.23,836.71 L487.42,834.77 L489.62,832.99 L491.81,831.37 L494.00,829.90 L496.20,828.58 L498.39,827.39 L500.59,826.35 L502.78,825.44 L504.98,824.67 L507.17,824.01 L509.37,823.48 L511.56,823.07 L513.75,822.76 L515.95,822.54 L518.14,822.42 L520.34,822.37 L522.53,822.39 L524.73,822.47 L526.92,822.61 L529.11,822.78 L531.31,823.00 L533.50,823.23 L535.70,823.48 L537.89,823.74 L540.09,824.00 L542.28,824.25 L544.48,824.47 L546.67,824.67 L548.86,824.84 L551.06,824.95 L553.25,825.01 L555.45,825.01 L557.64,824.94 L559.84,824.80 L562.03,824.59 L564.22,824.31 L566.42,823.96 L568.61,823.53 L570.81,823.03 L573.00,822.45 L575.20,821.79 L577.39,821.05 L579.59,820.24 L581.78,819.34 L583.97,818.35 L586.17,817.28 L588.36,816.12 L590.56,814.88 L592.75,813.54 L594.95,812.12 L597.14,810.60 L599.33,808.98 L601.53,807.28 L603.72,805.47 L605.92,803.57 L608.11,801.57 L610.31,799.46 L612.50,797.26 L614.70,794.95 L616.89,792.53 L619.08,790.01 L621.28,787.39 L623.47,784.67 L625.67,781.85 L627.86,778.95 L630.06,775.97 L632.25,772.92 L634.44,769.80 L636.64,766.61 L638.83,763.36 L641.03,760.07 L643.22,756.72 L645.42,753.34 L647.61,749.92 L649.81,746.47 L652.00,743.00 L654.00,718.00 L661.00,718.00 L661.00,1048.00 L608.00,1048.00 L607.00,1014.00 L605.31,1009.33 L603.62,1004.80 L601.93,1000.39 L600.24,996.10 L598.56,991.94 L596.87,987.90 L595.18,983.97 L593.49,980.15 L591.80,976.44 L590.11,972.83 L588.42,969.33 L586.73,965.92 L585.05,962.61 L583.36,959.39 L581.67,956.26 L579.98,953.21 L578.29,950.24 L576.60,947.35 L574.91,944.54 L573.22,941.80 L571.54,939.13 L569.85,936.53 L568.16,934.00 L566.47,931.54 L564.78,929.14 L563.09,926.80 L561.40,924.52 L559.71,922.30 L558.03,920.14 L556.34,918.03 L554.65,915.98 L552.96,913.98 L551.27,912.02 L549.58,910.11 L547.89,908.25 L546.20,906.43 L544.52,904.65 L542.83,902.92 L541.14,901.22 L539.45,899.56 L537.76,897.95 L536.07,896.38 L534.38,894.86 L532.69,893.39 L531.01,891.97 L529.32,890.61 L527.63,889.29 L525.94,888.03 L524.25,886.82 L522.56,885.67 L520.87,884.57 L519.18,883.53 L517.50,882.54 L515.81,881.60 L514.12,880.71 L512.43,879.87 L510.74,879.08 L509.05,878.34 L507.36,877.64 L505.67,876.99 L503.99,876.39 L502.30,875.82 L500.61,875.30 L498.92,874.83 L497.23,874.39 L495.54,873.99 L493.85,873.64 L492.16,873.32 L490.48,873.03 L488.79,872.78 L487.10,872.57 L485.41,872.41 L483.72,872.28 L482.03,872.20 L480.34,872.16 L478.65,872.18 L476.97,872.25 L475.28,872.38 L473.59,872.57 L471.90,872.82 L470.21,873.13 L468.52,873.52 L466.83,873.97 L465.14,874.49 L463.46,875.09 L461.77,875.77 L460.08,876.53 L458.39,877.37 L456.70,878.30 L454.97,879.94 L453.25,881.98 L451.52,884.38 L449.80,887.11 L448.07,890.13 L446.35,893.42 L444.62,896.95 L442.90,900.66 L441.18,904.55 L439.45,908.57 L437.73,912.68 L436.00,916.86 L434.27,921.08 L432.55,925.32 L430.82,929.60 L429.10,933.94 L427.38,938.35 L425.65,942.84 L423.93,947.44 L422.20,952.16 L420.48,957.07 L418.75,962.39 L417.03,968.32 L415.30,975.10 Z"/></clipPath>
<g clip-path="url(#clipF)">
<path d="M415.30,879.50 L417.48,880.47 L419.66,881.31 L421.84,882.04 L424.02,882.64 L426.19,883.13 L428.37,883.49 L430.55,883.73 L432.73,883.85 L434.91,883.85 L437.09,883.73 L439.27,883.49 L441.45,883.13 L443.63,882.67 L445.81,882.13 L447.98,881.51 L450.16,880.82 L452.34,880.06 L454.52,879.22 L456.70,878.30 L458.89,873.91 L461.09,869.74 L463.28,865.77 L465.48,862.01 L467.67,858.45 L469.87,855.09 L472.06,851.92 L474.26,848.94 L476.45,846.14 L478.64,843.52 L480.84,841.08 L483.03,838.81 L485.23,836.71 L487.42,834.77 L489.62,832.99 L491.81,831.37 L494.00,829.90 L496.20,828.58 L498.39,827.39 L500.59,826.35 L502.78,825.44 L504.98,824.67 L507.17,824.01 L509.37,823.48 L511.56,823.07 L513.75,822.76 L515.95,822.54 L518.14,822.42 L520.34,822.37 L522.53,822.39 L524.73,822.47 L526.92,822.61 L529.11,822.78 L531.31,823.00 L533.50,823.23 L535.70,823.48 L537.89,823.74 L540.09,824.00 L542.28,824.25 L544.48,824.47 L546.67,824.67 L548.86,824.84 L551.06,824.95 L553.25,825.01 L555.45,825.01 L557.64,824.94 L559.84,824.80 L562.03,824.59 L564.22,824.31 L566.42,823.96 L568.61,823.53 L570.81,823.03 L573.00,822.45 L575.20,821.79 L577.39,821.05 L579.59,820.24 L581.78,819.34 L583.97,818.35 L586.17,817.28 L588.36,816.12 L590.56,814.88 L592.75,813.54 L594.95,812.12 L597.14,810.60 L599.33,808.98 L601.53,807.28 L603.72,805.47 L605.92,803.57 L608.11,801.57 L610.31,799.46 L612.50,797.26 L614.70,794.95 L616.89,792.53 L619.08,790.01 L621.28,787.39 L623.47,784.67 L625.67,781.85 L627.86,778.95 L630.06,775.97 L632.25,772.92 L634.44,769.80 L636.64,766.61 L638.83,763.36 L641.03,760.07 L643.22,756.72 L645.42,753.34 L647.61,749.92 L649.81,746.47 L652.00,743.00 L654.00,718.00 L661.00,718.00 L661.00,1048.00 L608.00,1048.00 L607.00,1014.00 L605.31,1009.33 L603.62,1004.80 L601.93,1000.39 L600.24,996.10 L598.56,991.94 L596.87,987.90 L595.18,983.97 L593.49,980.15 L591.80,976.44 L590.11,972.83 L588.42,969.33 L586.73,965.92 L585.05,962.61 L583.36,959.39 L581.67,956.26 L579.98,953.21 L578.29,950.24 L576.60,947.35 L574.91,944.54 L573.22,941.80 L571.54,939.13 L569.85,936.53 L568.16,934.00 L566.47,931.54 L564.78,929.14 L563.09,926.80 L561.40,924.52 L559.71,922.30 L558.03,920.14 L556.34,918.03 L554.65,915.98 L552.96,913.98 L551.27,912.02 L549.58,910.11 L547.89,908.25 L546.20,906.43 L544.52,904.65 L542.83,902.92 L541.14,901.22 L539.45,899.56 L537.76,897.95 L536.07,896.38 L534.38,894.86 L532.69,893.39 L531.01,891.97 L529.32,890.61 L527.63,889.29 L525.94,888.03 L524.25,886.82 L522.56,885.67 L520.87,884.57 L519.18,883.53 L517.50,882.54 L515.81,881.60 L514.12,880.71 L512.43,879.87 L510.74,879.08 L509.05,878.34 L507.36,877.64 L505.67,876.99 L503.99,876.39 L502.30,875.82 L500.61,875.30 L498.92,874.83 L497.23,874.39 L495.54,873.99 L493.85,873.64 L492.16,873.32 L490.48,873.03 L488.79,872.78 L487.10,872.57 L485.41,872.41 L483.72,872.28 L482.03,872.20 L480.34,872.16 L478.65,872.18 L476.97,872.25 L475.28,872.38 L473.59,872.57 L471.90,872.82 L470.21,873.13 L468.52,873.52 L466.83,873.97 L465.14,874.49 L463.46,875.09 L461.77,875.77 L460.08,876.53 L458.39,877.37 L456.70,878.30 L454.97,879.94 L453.25,881.98 L451.52,884.38 L449.80,887.11 L448.07,890.13 L446.35,893.42 L444.62,896.95 L442.90,900.66 L441.18,904.55 L439.45,908.57 L437.73,912.68 L436.00,916.86 L434.27,921.08 L432.55,925.32 L430.82,929.60 L429.10,933.94 L427.38,938.35 L425.65,942.84 L423.93,947.44 L422.20,952.16 L420.48,957.07 L418.75,962.39 L417.03,968.32 L415.30,975.10 Z" fill="#f9e3e1"/>
<g fill="#a7cbe8"><rect x="419.00" y="983.10" width="4.25" height="17.70"/><rect x="423.96" y="951.90" width="4.25" height="48.90"/><rect x="428.92" y="946.80" width="4.25" height="54.00"/><rect x="433.88" y="924.60" width="4.25" height="76.20"/><rect x="438.84" y="921.60" width="4.25" height="79.20"/><rect x="443.80" y="917.50" width="4.25" height="83.30"/><rect x="448.76" y="946.00" width="4.25" height="54.80"/><rect x="453.72" y="948.90" width="4.25" height="51.90"/><rect x="458.68" y="953.00" width="4.25" height="47.80"/><rect x="463.64" y="969.10" width="4.25" height="31.70"/><rect x="468.60" y="973.00" width="4.25" height="27.80"/><rect x="473.56" y="980.00" width="4.25" height="20.80"/><rect x="478.52" y="982.20" width="4.25" height="18.60"/><rect x="483.48" y="991.20" width="4.25" height="9.60"/><rect x="488.44" y="982.10" width="4.25" height="18.70"/><rect x="493.40" y="985.00" width="4.25" height="15.80"/><rect x="498.36" y="990.20" width="4.25" height="10.60"/><rect x="503.32" y="993.30" width="4.25" height="7.50"/><rect x="508.28" y="996.10" width="4.25" height="4.70"/><rect x="513.24" y="997.30" width="4.25" height="3.50"/><rect x="518.20" y="998.30" width="4.25" height="2.50"/><rect x="523.16" y="994.20" width="4.25" height="6.60"/><rect x="528.12" y="995.20" width="4.25" height="5.60"/><rect x="533.08" y="999.10" width="4.25" height="1.70"/><rect x="538.04" y="1000.00" width="4.25" height="0.80"/><rect x="543.00" y="999.10" width="4.25" height="1.70"/><rect x="547.96" y="999.10" width="4.25" height="1.70"/><rect x="552.92" y="1000.00" width="4.25" height="0.80"/><rect x="557.88" y="1000.00" width="4.25" height="0.80"/><rect x="562.84" y="999.00" width="4.25" height="1.80"/><rect x="567.80" y="1000.00" width="4.25" height="0.80"/><rect x="587.64" y="1000.00" width="4.25" height="0.80"/><rect x="602.52" y="1000.00" width="4.25" height="0.80"/><rect x="652.12" y="1000.00" width="4.25" height="0.80"/></g>
<g fill="#b1c3df" clip-path="url(#pinkF)"><rect x="419.00" y="983.10" width="4.25" height="17.70"/><rect x="423.96" y="951.90" width="4.25" height="48.90"/><rect x="428.92" y="946.80" width="4.25" height="54.00"/><rect x="433.88" y="924.60" width="4.25" height="76.20"/><rect x="438.84" y="921.60" width="4.25" height="79.20"/><rect x="443.80" y="917.50" width="4.25" height="83.30"/><rect x="448.76" y="946.00" width="4.25" height="54.80"/><rect x="453.72" y="948.90" width="4.25" height="51.90"/><rect x="458.68" y="953.00" width="4.25" height="47.80"/><rect x="463.64" y="969.10" width="4.25" height="31.70"/><rect x="468.60" y="973.00" width="4.25" height="27.80"/><rect x="473.56" y="980.00" width="4.25" height="20.80"/><rect x="478.52" y="982.20" width="4.25" height="18.60"/><rect x="483.48" y="991.20" width="4.25" height="9.60"/><rect x="488.44" y="982.10" width="4.25" height="18.70"/><rect x="493.40" y="985.00" width="4.25" height="15.80"/><rect x="498.36" y="990.20" width="4.25" height="10.60"/><rect x="503.32" y="993.30" width="4.25" height="7.50"/><rect x="508.28" y="996.10" width="4.25" height="4.70"/><rect x="513.24" y="997.30" width="4.25" height="3.50"/><rect x="518.20" y="998.30" width="4.25" height="2.50"/><rect x="523.16" y="994.20" width="4.25" height="6.60"/><rect x="528.12" y="995.20" width="4.25" height="5.60"/><rect x="533.08" y="999.10" width="4.25" height="1.70"/><rect x="538.04" y="1000.00" width="4.25" height="0.80"/><rect x="543.00" y="999.10" width="4.25" height="1.70"/><rect x="547.96" y="999.10" width="4.25" height="1.70"/><rect x="552.92" y="1000.00" width="4.25" height="0.80"/><rect x="557.88" y="1000.00" width="4.25" height="0.80"/><rect x="562.84" y="999.00" width="4.25" height="1.80"/><rect x="567.80" y="1000.00" width="4.25" height="0.80"/><rect x="587.64" y="1000.00" width="4.25" height="0.80"/><rect x="602.52" y="1000.00" width="4.25" height="0.80"/><rect x="652.12" y="1000.00" width="4.25" height="0.80"/></g>
<path d="M415.30,879.50 L417.48,880.47 L419.66,881.31 L421.84,882.04 L424.02,882.64 L426.19,883.13 L428.37,883.49 L430.55,883.73 L432.73,883.85 L434.91,883.85 L437.09,883.73 L439.27,883.49 L441.45,883.13 L443.63,882.67 L445.81,882.13 L447.98,881.51 L450.16,880.82 L452.34,880.06 L454.52,879.22 L456.70,878.30 L458.89,873.91 L461.09,869.74 L463.28,865.77 L465.48,862.01 L467.67,858.45 L469.87,855.09 L472.06,851.92 L474.26,848.94 L476.45,846.14 L478.64,843.52 L480.84,841.08 L483.03,838.81 L485.23,836.71 L487.42,834.77 L489.62,832.99 L491.81,831.37 L494.00,829.90 L496.20,828.58 L498.39,827.39 L500.59,826.35 L502.78,825.44 L504.98,824.67 L507.17,824.01 L509.37,823.48 L511.56,823.07 L513.75,822.76 L515.95,822.54 L518.14,822.42 L520.34,822.37 L522.53,822.39 L524.73,822.47 L526.92,822.61 L529.11,822.78 L531.31,823.00 L533.50,823.23 L535.70,823.48 L537.89,823.74 L540.09,824.00 L542.28,824.25 L544.48,824.47 L546.67,824.67 L548.86,824.84 L551.06,824.95 L553.25,825.01 L555.45,825.01 L557.64,824.94 L559.84,824.80 L562.03,824.59 L564.22,824.31 L566.42,823.96 L568.61,823.53 L570.81,823.03 L573.00,822.45 L575.20,821.79 L577.39,821.05 L579.59,820.24 L581.78,819.34 L583.97,818.35 L586.17,817.28 L588.36,816.12 L590.56,814.88 L592.75,813.54 L594.95,812.12 L597.14,810.60 L599.33,808.98 L601.53,807.28 L603.72,805.47 L605.92,803.57 L608.11,801.57 L610.31,799.46 L612.50,797.26 L614.70,794.95 L616.89,792.53 L619.08,790.01 L621.28,787.39 L623.47,784.67 L625.67,781.85 L627.86,778.95 L630.06,775.97 L632.25,772.92 L634.44,769.80 L636.64,766.61 L638.83,763.36 L641.03,760.07 L643.22,756.72 L645.42,753.34 L647.61,749.92 L649.81,746.47 L652.00,743.00" fill="none" stroke="#e8999a" stroke-width="0.8" stroke-dasharray="0.8 1.2"/>
<path d="M415.30,975.10 L417.03,968.32 L418.75,962.39 L420.48,957.07 L422.20,952.16 L423.93,947.44 L425.65,942.84 L427.38,938.35 L429.10,933.94 L430.82,929.60 L432.55,925.32 L434.27,921.08 L436.00,916.86 L437.73,912.68 L439.45,908.57 L441.18,904.55 L442.90,900.66 L444.62,896.95 L446.35,893.42 L448.07,890.13 L449.80,887.11 L451.52,884.38 L453.25,881.98 L454.97,879.94 L456.70,878.30 L458.39,877.37 L460.08,876.53 L461.77,875.77 L463.46,875.09 L465.14,874.49 L466.83,873.97 L468.52,873.52 L470.21,873.13 L471.90,872.82 L473.59,872.57 L475.28,872.38 L476.97,872.25 L478.65,872.18 L480.34,872.16 L482.03,872.20 L483.72,872.28 L485.41,872.41 L487.10,872.57 L488.79,872.78 L490.48,873.03 L492.16,873.32 L493.85,873.64 L495.54,873.99 L497.23,874.39 L498.92,874.83 L500.61,875.30 L502.30,875.82 L503.99,876.39 L505.67,876.99 L507.36,877.64 L509.05,878.34 L510.74,879.08 L512.43,879.87 L514.12,880.71 L515.81,881.60 L517.50,882.54 L519.18,883.53 L520.87,884.57 L522.56,885.67 L524.25,886.82 L525.94,888.03 L527.63,889.29 L529.32,890.61 L531.01,891.97 L532.69,893.39 L534.38,894.86 L536.07,896.38 L537.76,897.95 L539.45,899.56 L541.14,901.22 L542.83,902.92 L544.52,904.65 L546.20,906.43 L547.89,908.25 L549.58,910.11 L551.27,912.02 L552.96,913.98 L554.65,915.98 L556.34,918.03 L558.03,920.14 L559.71,922.30 L561.40,924.52 L563.09,926.80 L564.78,929.14 L566.47,931.54 L568.16,934.00 L569.85,936.53 L571.54,939.13 L573.22,941.80 L574.91,944.54 L576.60,947.35 L578.29,950.24 L579.98,953.21 L581.67,956.26 L583.36,959.39 L585.05,962.61 L586.73,965.92 L588.42,969.33 L590.11,972.83 L591.80,976.44 L593.49,980.15 L595.18,983.97 L596.87,987.90 L598.56,991.94 L600.24,996.10 L601.93,1000.39 L603.62,1004.80 L605.31,1009.33 L607.00,1014.00" fill="none" stroke="#e8999a" stroke-width="0.8" stroke-dasharray="0.8 1.2"/>
<line x1="456.7" y1="749.0" x2="456.7" y2="1007.5" stroke="#4f9f9c" stroke-width="0.9" stroke-dasharray="1.8 1.9" stroke-opacity="1"/>
<line x1="405.8" y1="878.5" x2="671.7" y2="878.5" stroke="#4f9f9c" stroke-width="0.8" stroke-dasharray="2.2 1.6" stroke-opacity="0.9"/>
<text x="437.8" y="872.20" class="rf" textLength="38.00" lengthAdjust="spacingAndGlyphs">Ref. point = 5.732</text>
<path d="M415.30,927.40 L417.36,924.92 L419.43,922.41 L421.49,919.87 L423.56,917.30 L425.62,914.71 L427.69,912.10 L429.75,909.48 L431.82,906.86 L433.88,904.23 L435.95,901.60 L438.01,898.99 L440.08,896.38 L442.14,893.80 L444.21,891.24 L446.27,888.70 L448.34,886.20 L450.40,883.74 L452.46,881.33 L454.53,878.96 L456.59,876.66 L458.66,874.42 L460.72,872.26 L462.79,870.18 L464.85,868.18 L466.92,866.28 L468.98,864.48 L471.05,862.79 L473.11,861.22 L475.18,859.76 L477.24,858.42 L479.31,857.20 L481.37,856.09 L483.44,855.09 L485.50,854.21 L487.56,853.43 L489.63,852.75 L491.69,852.18 L493.76,851.71 L495.82,851.34 L497.89,851.07 L499.95,850.89 L502.02,850.81 L504.08,850.82 L506.15,850.92 L508.21,851.10 L510.28,851.37 L512.34,851.72 L514.41,852.16 L516.47,852.67 L518.54,853.26 L520.60,853.93 L522.66,854.67 L524.73,855.48 L526.79,856.36 L528.86,857.30 L530.92,858.30 L532.99,859.35 L535.05,860.45 L537.12,861.59 L539.18,862.77 L541.25,863.98 L543.31,865.21 L545.38,866.46 L547.44,867.72 L549.51,868.99 L551.57,870.27 L553.64,871.54 L555.70,872.80 L557.76,874.06 L559.83,875.31 L561.89,876.57 L563.96,877.83 L566.02,879.10 L568.09,880.37 L570.15,881.67 L572.22,882.97 L574.28,884.30 L576.35,885.65 L578.41,887.03 L580.48,888.43 L582.54,889.85 L584.61,891.29 L586.67,892.75 L588.74,894.24 L590.80,895.75 L592.86,897.27 L594.93,898.82 L596.99,900.39 L599.06,901.98 L601.12,903.59 L603.19,905.22 L605.25,906.86 L607.32,908.53 L609.38,910.21 L611.45,911.91 L613.51,913.62 L615.58,915.36 L617.64,917.11 L619.71,918.87 L621.77,920.65 L623.84,922.45 L625.90,924.26 L627.96,926.09 L630.03,927.93 L632.09,929.78 L634.16,931.65 L636.22,933.53 L638.29,935.43 L640.35,937.33 L642.42,939.25 L644.48,941.18 L646.55,943.12 L648.61,945.08 L650.68,947.04 L652.74,949.01 L654.81,951.00 L656.87,952.99 L658.94,954.99 L661.00,957.00" fill="none" stroke="#e2615d" stroke-width="1.2" stroke-linejoin="round"/>
</g>
<path d="M405.8,749.0 V1007.5 H671.5" fill="none" stroke="#3c3c3c" stroke-width="0.9"/>
<line x1="402.40" y1="758.50" x2="405.8" y2="758.50" stroke="#3c3c3c" stroke-width="0.75"/>
<text transform="translate(399.2,760.50) scale(0.9,1)" text-anchor="end" class="tk">10.0</text>
<line x1="402.40" y1="794.62" x2="405.8" y2="794.62" stroke="#3c3c3c" stroke-width="0.75"/>
<text transform="translate(399.2,796.62) scale(0.9,1)" text-anchor="end" class="tk">5.0</text>
<line x1="402.40" y1="842.38" x2="405.8" y2="842.38" stroke="#3c3c3c" stroke-width="0.75"/>
<text transform="translate(399.2,844.38) scale(0.9,1)" text-anchor="end" class="tk">2.0</text>
<line x1="402.40" y1="878.50" x2="405.8" y2="878.50" stroke="#3c3c3c" stroke-width="0.75"/>
<text transform="translate(399.2,880.50) scale(0.9,1)" text-anchor="end" class="tk">1.0</text>
<line x1="402.40" y1="914.62" x2="405.8" y2="914.62" stroke="#3c3c3c" stroke-width="0.75"/>
<text transform="translate(399.2,916.62) scale(0.9,1)" text-anchor="end" class="tk">0.5</text>
<line x1="402.40" y1="962.38" x2="405.8" y2="962.38" stroke="#3c3c3c" stroke-width="0.75"/>
<text transform="translate(399.2,964.38) scale(0.9,1)" text-anchor="end" class="tk">0.2</text>
<line x1="402.40" y1="998.50" x2="405.8" y2="998.50" stroke="#3c3c3c" stroke-width="0.75"/>
<text transform="translate(399.2,1000.50) scale(0.9,1)" text-anchor="end" class="tk">0.1</text>
<line x1="446.10" y1="1007.5" x2="446.10" y2="1010.7" stroke="#3c3c3c" stroke-width="0.7"/>
<text transform="translate(446.10,1018.60) scale(0.9,1)" text-anchor="middle" class="tk">5</text>
<line x1="516.90" y1="1007.5" x2="516.90" y2="1010.7" stroke="#3c3c3c" stroke-width="0.7"/>
<text transform="translate(516.90,1018.60) scale(0.9,1)" text-anchor="middle" class="tk">10</text>
<line x1="587.70" y1="1007.5" x2="587.70" y2="1010.7" stroke="#3c3c3c" stroke-width="0.7"/>
<text transform="translate(587.70,1018.60) scale(0.9,1)" text-anchor="middle" class="tk">15</text>
<line x1="658.50" y1="1007.5" x2="658.50" y2="1010.7" stroke="#3c3c3c" stroke-width="0.7"/>
<text transform="translate(658.50,1018.60) scale(0.9,1)" text-anchor="middle" class="tk">20</text>
<text transform="translate(538.2,1030.30) scale(0.9,0.95)" text-anchor="middle" class="tk">RAR</text>
<text transform="translate(386.20,878.60) rotate(-90) scale(0.92,1)" text-anchor="middle" class="hr">Hazard Ratio</text>
<text x="464.00" y="759.80" class="pv" textLength="49.70" lengthAdjust="spacingAndGlyphs">P for non−linearity: 0.013</text>
<text x="464.00" y="764.90" class="pv" textLength="36.20" lengthAdjust="spacingAndGlyphs">P for overall=0.010</text>
<text x="382.0" y="730.5" class="pl">F</text>
</svg>
</body></html>
